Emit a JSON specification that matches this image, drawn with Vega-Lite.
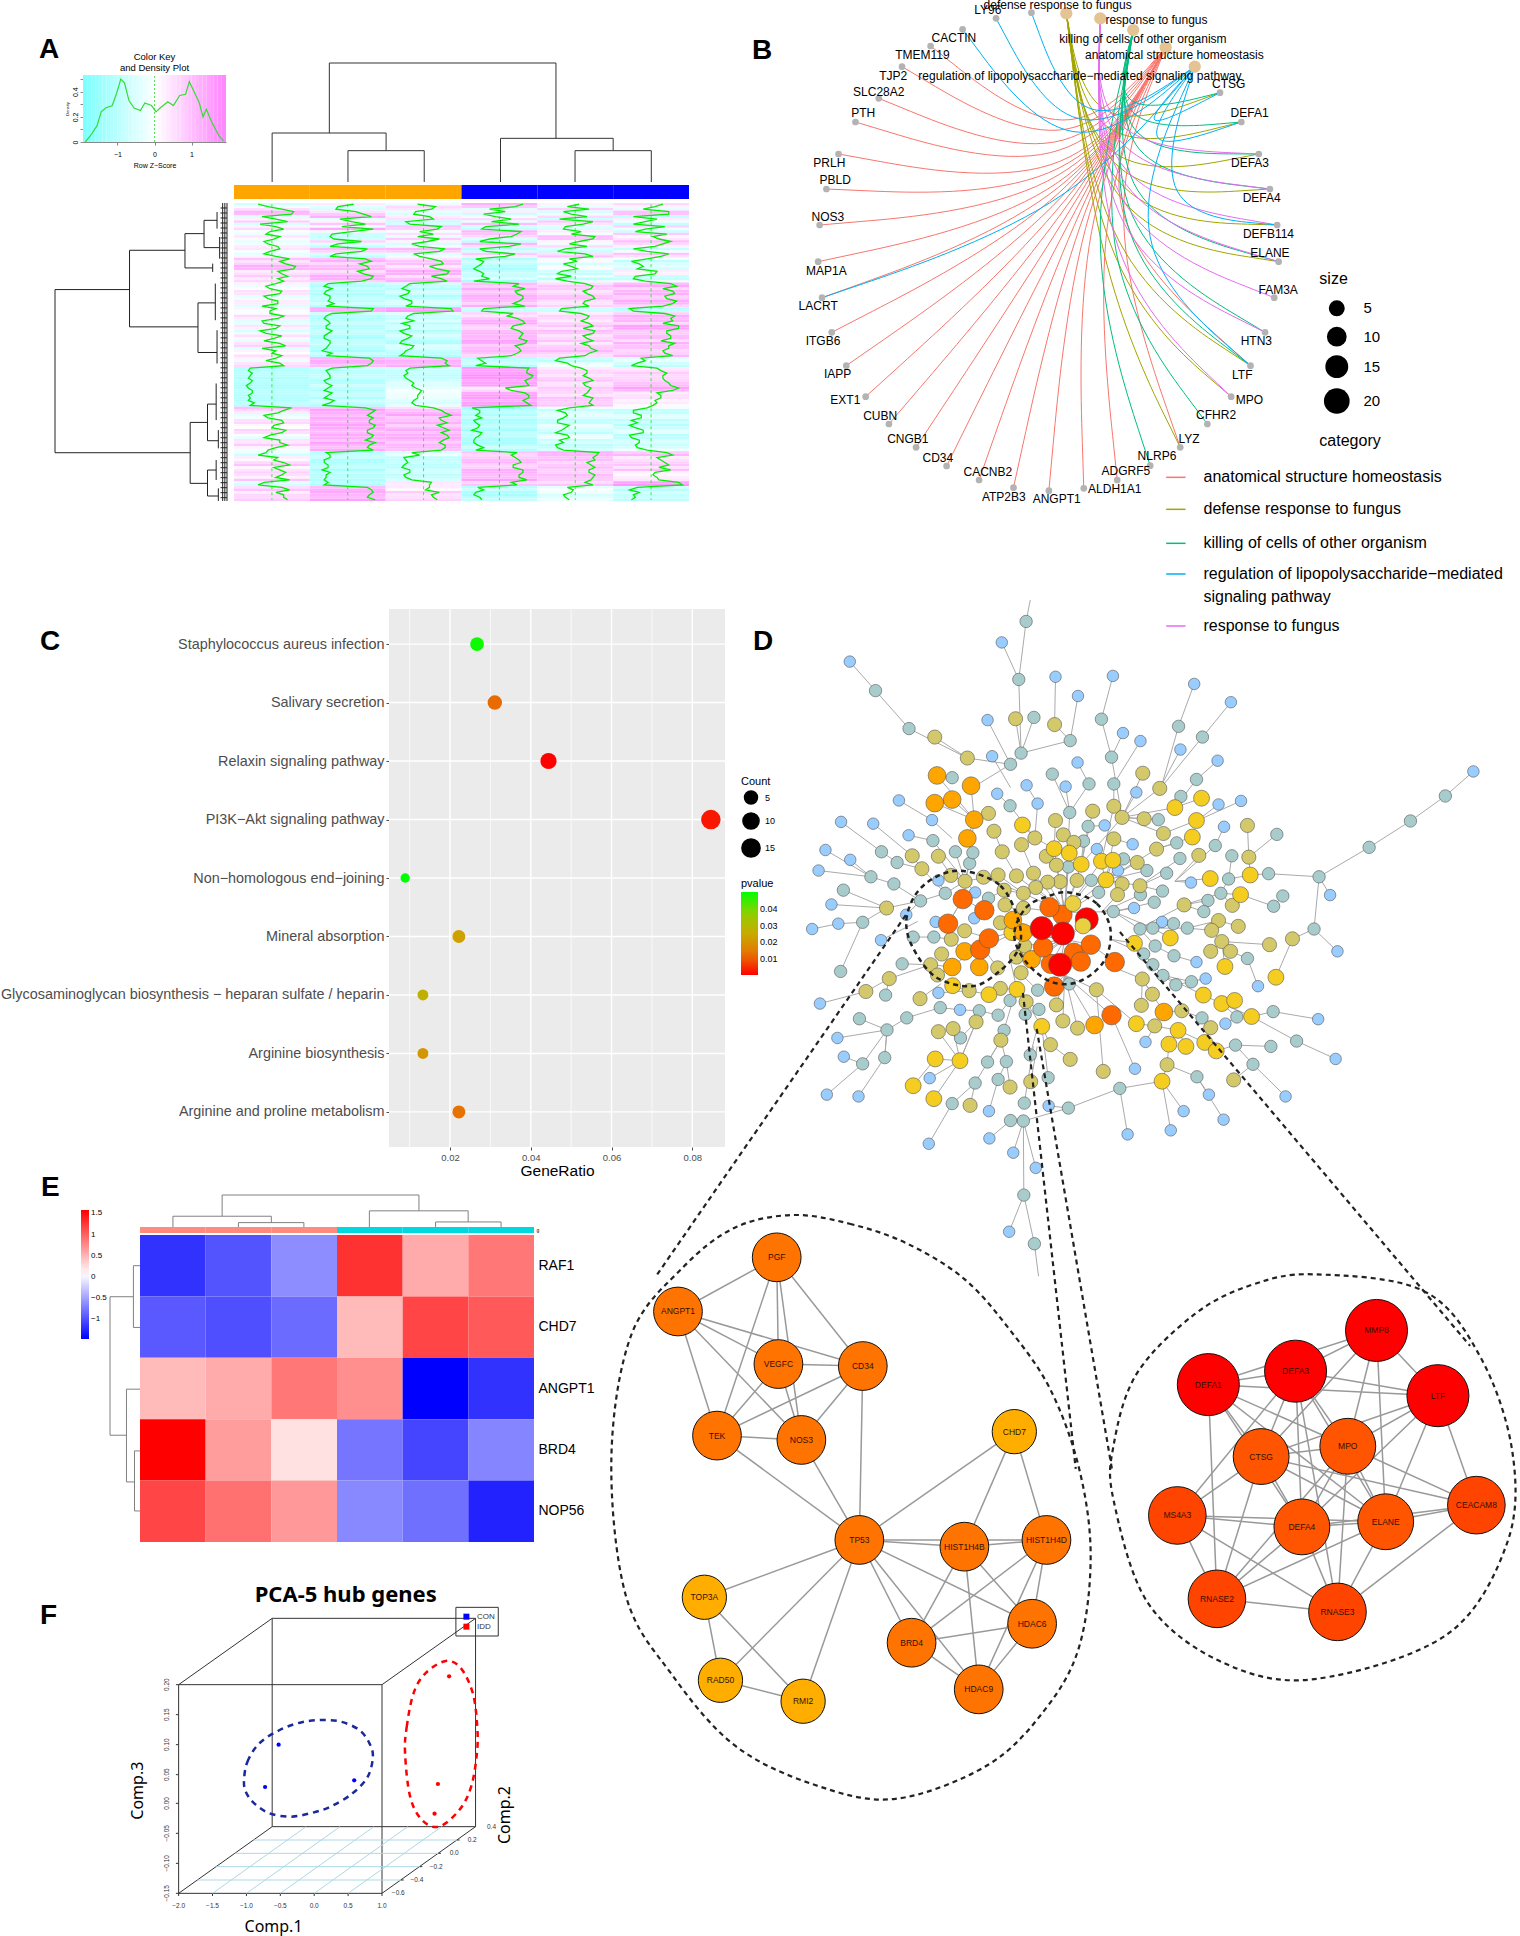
{"$schema":"https://vega.github.io/schema/vega-lite/v6.json","width":1520,"height":1936,"padding":0,"autosize":{"type":"none"},"background":"white","config":{"view":{"stroke":null},"axis":{"grid":false,"labelFont":"Liberation Sans","titleFont":"Liberation Sans"},"legend":{"labelFont":"Liberation Sans","titleFont":"Liberation Sans"},"text":{"font":"Liberation Sans"}},
"resolve":{"scale":{"x":"independent","y":"independent","color":"independent","size":"independent","xOffset":"independent"}},
"datasets":{
"zn":[{"g":"PGF","x":273,"y":145,"l":"o"},{"g":"ANGPT1","x":101,"y":282,"l":"o"},{"g":"VEGFC","x":276,"y":415,"l":"o"},{"g":"CD34","x":423,"y":420,"l":"o"},{"g":"TEK","x":169,"y":596,"l":"o"},{"g":"NOS3","x":316,"y":607,"l":"o"},{"g":"TP53","x":417,"y":860,"l":"o"},{"g":"CHD7","x":687,"y":586,"l":"y"},{"g":"HIST1H4B","x":600,"y":877,"l":"o"},{"g":"HIST1H4D","x":743,"y":860,"l":"o"},{"g":"HDAC6","x":718,"y":1072,"l":"o"},{"g":"BRD4","x":508,"y":1120,"l":"o"},{"g":"HDAC9","x":625,"y":1238,"l":"o"},{"g":"TOP3A","x":147,"y":1005,"l":"y"},{"g":"RAD50","x":175,"y":1215,"l":"y"},{"g":"RMI2","x":319,"y":1268,"l":"y"},{"g":"MMP8","x":1318,"y":330,"l":"r"},{"g":"DEFA3","x":1177,"y":433,"l":"r"},{"g":"DEFA1","x":1025,"y":467,"l":"r"},{"g":"LTF","x":1425,"y":495,"l":"r"},{"g":"CTSG","x":1117,"y":649,"l":"s"},{"g":"MPO","x":1268,"y":623,"l":"s"},{"g":"CEACAM8","x":1492,"y":772,"l":"t"},{"g":"MS4A3","x":971,"y":798,"l":"t"},{"g":"DEFA4","x":1188,"y":827,"l":"s"},{"g":"ELANE","x":1334,"y":814,"l":"s"},{"g":"RNASE2","x":1040,"y":1009,"l":"t"},{"g":"RNASE3","x":1250,"y":1042,"l":"t"}],
"heat":[{"r":0,"a":-0.7,"b":0.3,"c":-0.3,"d":1.2,"e":0.2,"f":0.6},{"r":1,"a":-0.2,"b":-0.5,"c":0.6,"d":0.8,"e":-0.4,"f":0.2},{"r":2,"a":0.5,"b":-0.6,"c":0.4,"d":-0.5,"e":0.7,"f":-0.4},{"r":3,"a":1.1,"b":0.4,"c":-0.4,"d":0.3,"e":-0.6,"f":0.9},{"r":4,"a":1.0,"b":0.8,"c":-0.5,"d":-0.8,"e":-0.2,"f":0.9},{"r":5,"a":-0.5,"b":1.2,"c":0.3,"d":-0.2,"e":0.6,"f":-0.9},{"r":6,"a":0.2,"b":-0.4,"c":0.5,"d":0.6,"e":-0.8,"f":0.3},{"r":7,"a":0.8,"b":0.2,"c":-0.9,"d":-0.4,"e":0.9,"f":-0.3},{"r":8,"a":-0.6,"b":0.9,"c":-0.7,"d":1.0,"e":0.4,"f":-0.9},{"r":9,"a":0.2,"b":-0.3,"c":0.9,"d":-0.7,"e":-0.5,"f":0.7},{"r":10,"a":0.6,"b":1.3,"c":0.7,"d":-0.9,"e":-0.6,"f":-0.3},{"r":11,"a":-0.1,"b":0.2,"c":-0.2,"d":1.1,"e":0.3,"f":-0.8},{"r":12,"a":-0.3,"b":-0.8,"c":0.5,"d":0.9,"e":-0.2,"f":0.8},{"r":13,"a":0.4,"b":-0.9,"c":-0.3,"d":0.6,"e":1.0,"f":0.1},{"r":14,"a":0.1,"b":-0.7,"c":0.8,"d":-0.5,"e":0.9,"f":0.4},{"r":15,"a":-0.4,"b":0.7,"c":0.2,"d":-1.0,"e":0.2,"f":1.0},{"r":16,"a":-0.2,"b":-0.5,"c":-0.6,"d":1.1,"e":-0.3,"f":0.6},{"r":17,"a":0.3,"b":-0.9,"c":-0.2,"d":0.5,"e":0.6,"f":0.2},{"r":18,"a":0.4,"b":1.0,"c":1.1,"d":-1.0,"e":-0.5,"f":-0.9},{"r":19,"a":-0.1,"b":0.7,"c":0.8,"d":-0.7,"e":-0.9,"f":-0.2},{"r":20,"a":-0.4,"b":-0.6,"c":-0.5,"d":0.8,"e":0.5,"f":0.9},{"r":21,"a":0.2,"b":-0.9,"c":-0.2,"d":0.3,"e":0.9,"f":0.5},{"r":22,"a":0.9,"b":0.9,"c":0.4,"d":-1.2,"e":-0.3,"f":-0.2},{"r":23,"a":0.4,"b":1.2,"c":0.9,"d":-0.8,"e":0.1,"f":-1.0},{"r":24,"a":0.7,"b":0.6,"c":1.0,"d":-0.9,"e":-0.6,"f":-0.6},{"r":25,"a":1.2,"b":1.0,"c":0.3,"d":-1.1,"e":-0.2,"f":-0.4},{"r":26,"a":1.1,"b":1.1,"c":0.7,"d":-1.3,"e":0.1,"f":-0.7},{"r":27,"a":0.3,"b":0.5,"c":1.3,"d":-1.0,"e":-0.7,"f":0.3},{"r":28,"a":0.5,"b":0.8,"c":1.2,"d":-0.8,"e":-0.9,"f":0.2},{"r":29,"a":0.8,"b":1.3,"c":0.4,"d":-0.9,"e":-0.2,"f":-0.8},{"r":30,"a":0.3,"b":1.2,"c":0.9,"d":-0.5,"e":-1.0,"f":-0.9},{"r":31,"a":0.6,"b":0.7,"c":1.2,"d":-1.3,"e":-0.4,"f":-0.3},{"r":32,"a":0.2,"b":-1.0,"c":-0.7,"d":1.0,"e":0.5,"f":1.0},{"r":33,"a":-0.3,"b":-1.2,"c":-0.9,"d":0.7,"e":0.9,"f":1.3},{"r":34,"a":-0.1,"b":-0.8,"c":-1.1,"d":1.3,"e":0.8,"f":0.6},{"r":35,"a":0.5,"b":-1.1,"c":-0.7,"d":0.8,"e":0.4,"f":1.1},{"r":36,"a":0.4,"b":-1.2,"c":-0.8,"d":0.9,"e":0.6,"f":1.2},{"r":37,"a":-0.4,"b":-0.9,"c":-1.2,"d":1.2,"e":0.9,"f":0.7},{"r":38,"a":-0.2,"b":-0.9,"c":-1.0,"d":1.2,"e":1.0,"f":0.8},{"r":39,"a":0.3,"b":-1.0,"c":-0.6,"d":1.0,"e":0.5,"f":1.3},{"r":40,"a":0.3,"b":-0.7,"c":-0.6,"d":0.7,"e":0.4,"f":1.1},{"r":41,"a":-0.5,"b":-1.1,"c":-0.9,"d":1.3,"e":0.7,"f":0.6},{"r":42,"a":0.2,"b":1.3,"c":1.4,"d":-0.8,"e":-0.7,"f":-1.1},{"r":43,"a":-0.1,"b":1.2,"c":1.5,"d":-0.9,"e":-0.8,"f":-0.9},{"r":44,"a":-0.1,"b":-0.8,"c":-0.5,"d":0.7,"e":0.3,"f":0.7},{"r":45,"a":0.6,"b":-1.1,"c":-0.8,"d":0.4,"e":0.7,"f":1.2},{"r":46,"a":0.3,"b":-1.2,"c":-0.9,"d":0.9,"e":0.6,"f":1.0},{"r":47,"a":-0.5,"b":-1.0,"c":-0.5,"d":1.2,"e":0.3,"f":1.1},{"r":48,"a":-0.4,"b":-0.9,"c":-1.1,"d":1.3,"e":0.7,"f":0.6},{"r":49,"a":0.4,"b":-1.1,"c":-0.7,"d":0.7,"e":0.9,"f":1.4},{"r":50,"a":0.2,"b":-1.1,"c":-0.7,"d":0.6,"e":0.4,"f":1.4},{"r":51,"a":-0.6,"b":-0.8,"c":-1.2,"d":1.0,"e":1.0,"f":0.8},{"r":52,"a":-0.3,"b":-1.0,"c":-1.0,"d":1.2,"e":0.9,"f":0.8},{"r":53,"a":0.5,"b":-1.2,"c":-0.6,"d":1.1,"e":0.4,"f":1.0},{"r":54,"a":0.1,"b":-1.2,"c":-0.8,"d":1.0,"e":0.6,"f":1.0},{"r":55,"a":-0.4,"b":-0.9,"c":-1.1,"d":1.4,"e":0.9,"f":0.5},{"r":56,"a":0.4,"b":-0.9,"c":-1.2,"d":1.3,"e":0.3,"f":1.2},{"r":57,"a":0.7,"b":-1.0,"c":-0.5,"d":0.8,"e":0.7,"f":0.9},{"r":58,"a":-0.5,"b":-1.1,"c":-0.6,"d":1.0,"e":0.8,"f":0.9},{"r":59,"a":0.2,"b":-1.3,"c":-0.9,"d":1.1,"e":1.1,"f":0.6},{"r":60,"a":0.0,"b":-0.8,"c":-1.0,"d":0.9,"e":0.7,"f":0.7},{"r":61,"a":0.5,"b":-1.1,"c":-1.2,"d":0.6,"e":0.5,"f":1.1},{"r":62,"a":0.2,"b":1.1,"c":0.9,"d":-1.1,"e":-0.8,"f":-0.5},{"r":63,"a":-0.3,"b":1.3,"c":1.2,"d":-0.9,"e":-1.0,"f":-0.3},{"r":64,"a":0.4,"b":1.2,"c":1.1,"d":-0.7,"e":-0.4,"f":-0.7},{"r":65,"a":0.6,"b":1.0,"c":1.3,"d":-1.2,"e":-0.2,"f":-1.0},{"r":66,"a":-1.1,"b":-0.8,"c":-0.7,"d":1.5,"e":0.3,"f":0.3},{"r":67,"a":-1.2,"b":-1.1,"c":-0.9,"d":1.4,"e":0.6,"f":0.5},{"r":68,"a":-1.0,"b":-1.0,"c":-0.8,"d":1.4,"e":0.6,"f":0.8},{"r":69,"a":-1.1,"b":-0.9,"c":-1.0,"d":1.7,"e":0.4,"f":0.6},{"r":70,"a":-1.2,"b":-0.9,"c":-0.9,"d":1.6,"e":0.7,"f":0.6},{"r":71,"a":-1.0,"b":-1.2,"c":-0.7,"d":1.3,"e":0.9,"f":0.7},{"r":72,"a":-1.1,"b":-1.1,"c":-0.5,"d":1.4,"e":0.4,"f":0.9},{"r":73,"a":-1.3,"b":-0.8,"c":-0.6,"d":1.5,"e":0.5,"f":1.0},{"r":74,"a":-1.2,"b":-1.0,"c":-0.4,"d":0.3,"e":0.8,"f":1.4},{"r":75,"a":-1.0,"b":-1.2,"c":-0.1,"d":0.6,"e":0.7,"f":1.1},{"r":76,"a":-1.0,"b":-0.8,"c":-0.2,"d":1.3,"e":0.6,"f":0.3},{"r":77,"a":-1.2,"b":-1.0,"c":-0.3,"d":1.5,"e":0.4,"f":0.5},{"r":78,"a":-1.1,"b":-1.2,"c":-0.3,"d":1.5,"e":0.9,"f":0.5},{"r":79,"a":-1.2,"b":-0.7,"c":-0.5,"d":1.2,"e":0.8,"f":0.2},{"r":80,"a":-0.9,"b":-0.9,"c":-0.6,"d":1.4,"e":0.7,"f":0.3},{"r":81,"a":-1.1,"b":-1.3,"c":-0.4,"d":1.6,"e":0.9,"f":0.1},{"r":82,"a":1.0,"b":0.9,"c":0.5,"d":-1.4,"e":-0.3,"f":-0.2},{"r":83,"a":0.6,"b":1.4,"c":0.9,"d":-1.0,"e":-0.9,"f":-0.9},{"r":84,"a":0.3,"b":1.2,"c":1.1,"d":-1.0,"e":-0.5,"f":-0.9},{"r":85,"a":-0.4,"b":1.0,"c":1.4,"d":-1.2,"e":-0.4,"f":-0.5},{"r":86,"a":-0.2,"b":1.3,"c":0.8,"d":-0.9,"e":-0.6,"f":-0.5},{"r":87,"a":0.5,"b":1.1,"c":0.9,"d":-1.3,"e":-0.9,"f":-1.0},{"r":88,"a":0.6,"b":1.1,"c":1.2,"d":-1.2,"e":-0.9,"f":-0.7},{"r":89,"a":0.1,"b":1.4,"c":0.7,"d":-1.0,"e":-0.3,"f":-1.1},{"r":90,"a":0.0,"b":1.3,"c":1.0,"d":-1.1,"e":-0.5,"f":-0.8},{"r":91,"a":0.7,"b":1.0,"c":1.3,"d":-1.4,"e":-0.7,"f":-0.4},{"r":92,"a":0.5,"b":1.0,"c":0.9,"d":-0.9,"e":-1.0,"f":-0.4},{"r":93,"a":-0.1,"b":1.3,"c":1.2,"d":-1.0,"e":-0.4,"f":-1.1},{"r":94,"a":-0.4,"b":1.2,"c":1.3,"d":-1.2,"e":-0.3,"f":-1.0},{"r":95,"a":0.4,"b":0.9,"c":1.0,"d":-1.3,"e":-0.8,"f":-0.6},{"r":96,"a":0.4,"b":1.4,"c":0.8,"d":-1.3,"e":-0.6,"f":-0.6},{"r":97,"a":0.8,"b":1.1,"c":1.1,"d":-1.1,"e":-1.0,"f":-0.8},{"r":98,"a":0.2,"b":1.0,"c":1.1,"d":-0.8,"e":-0.9,"f":-0.7},{"r":99,"a":-0.2,"b":1.3,"c":0.9,"d":-1.2,"e":-0.6,"f":-0.2},{"r":100,"a":-0.3,"b":-1.1,"c":-0.6,"d":0.9,"e":1.2,"f":0.8},{"r":101,"a":-0.7,"b":-0.9,"c":-0.2,"d":0.6,"e":1.1,"f":1.1},{"r":102,"a":0.3,"b":-0.9,"c":-1.0,"d":0.8,"e":0.9,"f":0.3},{"r":103,"a":0.1,"b":-1.2,"c":-0.9,"d":1.0,"e":1.0,"f":0.5},{"r":104,"a":0.6,"b":-1.2,"c":-0.8,"d":1.1,"e":0.6,"f":0.7},{"r":105,"a":0.9,"b":-1.0,"c":-1.0,"d":0.7,"e":0.8,"f":0.9},{"r":106,"a":0.1,"b":-1.0,"c":-1.1,"d":0.7,"e":1.0,"f":0.4},{"r":107,"a":0.4,"b":-1.3,"c":-0.7,"d":1.2,"e":0.7,"f":1.0},{"r":108,"a":0.7,"b":-0.9,"c":-0.7,"d":1.2,"e":0.7,"f":0.2},{"r":109,"a":0.5,"b":-1.1,"c":-1.0,"d":1.0,"e":1.0,"f":0.1},{"r":110,"a":0.2,"b":-1.1,"c":-0.9,"d":1.0,"e":0.9,"f":0.3},{"r":111,"a":0.9,"b":-1.2,"c":-0.6,"d":1.4,"e":0.8,"f":0.4},{"r":112,"a":-0.4,"b":-1.0,"c":0.4,"d":0.6,"e":0.5,"f":1.4},{"r":113,"a":-0.7,"b":-1.2,"c":0.3,"d":0.9,"e":0.9,"f":1.6},{"r":114,"a":0.5,"b":1.0,"c":0.3,"d":-1.1,"e":-0.4,"f":-0.7},{"r":115,"a":0.9,"b":1.2,"c":0.1,"d":-0.8,"e":-0.1,"f":-1.1},{"r":116,"a":0.2,"b":1.3,"c":0.8,"d":-1.2,"e":-0.2,"f":-0.6},{"r":117,"a":0.6,"b":1.1,"c":0.4,"d":-1.3,"e":-0.6,"f":-0.9},{"r":118,"a":0.6,"b":1.0,"c":0.5,"d":-1.0,"e":-0.5,"f":-0.8},{"r":119,"a":0.8,"b":1.4,"c":0.7,"d":-0.9,"e":-0.3,"f":-1.0}]
},
"layer":[
{"data":{"values":[{"t":"A","x":0.0257,"y":0.0300},{"t":"B","x":0.4947,"y":0.0305},{"t":"C","x":0.0263,"y":0.3357},{"t":"D","x":0.4954,"y":0.3357},{"t":"E","x":0.0270,"y":0.6178},{"t":"F","x":0.0263,"y":0.8388}]},"mark":{"type":"text","fontSize":28,"fontWeight":"bold","align":"left","baseline":"alphabetic","font":"Liberation Sans"},"encoding":{"x":{"field":"x","type":"quantitative","axis":null,"scale":{"domain":[0,1],"range":[0,1520]}},"y":{"field":"y","type":"quantitative","axis":null,"scale":{"domain":[0,1],"range":[0,1936]}},"text":{"field":"t"}}},

{"layer":[
{"data":{"values":[{"a":-1.93,"b":-1.8},{"a":-1.8,"b":-1.7},{"a":-1.7,"b":-1.6},{"a":-1.6,"b":-1.5},{"a":-1.5,"b":-1.4},{"a":-1.4,"b":-1.3},{"a":-1.3,"b":-1.2},{"a":-1.2,"b":-1.1},{"a":-1.1,"b":-1.0},{"a":-1.0,"b":-0.9},{"a":-0.9,"b":-0.8},{"a":-0.8,"b":-0.7},{"a":-0.7,"b":-0.6},{"a":-0.6,"b":-0.5},{"a":-0.5,"b":-0.4},{"a":-0.4,"b":-0.3},{"a":-0.3,"b":-0.2},{"a":-0.2,"b":-0.1},{"a":-0.1,"b":0.0},{"a":0.0,"b":0.1},{"a":0.1,"b":0.2},{"a":0.2,"b":0.3},{"a":0.3,"b":0.4},{"a":0.4,"b":0.5},{"a":0.5,"b":0.6},{"a":0.6,"b":0.7},{"a":0.7,"b":0.8},{"a":0.8,"b":0.9},{"a":0.9,"b":1.0},{"a":1.0,"b":1.1},{"a":1.1,"b":1.2},{"a":1.2,"b":1.3},{"a":1.3,"b":1.4},{"a":1.4,"b":1.5},{"a":1.5,"b":1.6},{"a":1.6,"b":1.7},{"a":1.7,"b":1.8},{"a":1.8,"b":1.93}]},"mark":{"type":"rect","stroke":null},"encoding":{"x":{"field":"a","type":"quantitative","scale":{"domain":[-1.93,1.93],"range":[83,226],"nice":false,"zero":false},"axis":{"orient":"bottom","values":[-1,0,1],"offset":-1794,"labelFontSize":7,"tickSize":3,"title":"Row Z−Score","titleFontSize":7,"titleFontWeight":"normal","titlePadding":4,"labelPadding":5,"domain":true,"format":"d"}},"x2":{"field":"b"},"y":{"datum":0,"type":"quantitative","scale":{"domain":[0,0.533],"range":[142,75],"nice":false,"zero":false},"axis":{"orient":"left","values":[0,0.1,0.2,0.3,0.4,0.5],"labelExpr":"datum.value==0?'0':datum.value==0.2?'0.2':datum.value==0.4?'0.4':''","offset":-83,"labelFontSize":7,"labelAngle":-90,"labelAlign":"center","labelBaseline":"bottom","tickSize":3,"labelPadding":2,"title":"Density","titleFontSize":4,"titleFontWeight":"normal","titlePadding":2}},"y2":{"datum":0.533},"color":{"field":"a","type":"quantitative","legend":null,"scale":{"domain":[-1.93,0,1.93],"range":["#7fffff","#ffffff","#ff7fff"],"interpolate":"rgb"}}}},
{"data":{"values":[{"z":0}]},"mark":{"type":"rule","color":"#33dd33","strokeDash":[2,2],"strokeWidth":0.8},"encoding":{"x":{"field":"z","type":"quantitative"},"y":{"datum":0,"type":"quantitative"},"y2":{"datum":0.533}}},
{"data":{"values":[{"z":-1.87,"d":0},{"z":-1.73,"d":0.05},{"z":-1.55,"d":0.13},{"z":-1.44,"d":0.24},{"z":-1.32,"d":0.27},{"z":-1.14,"d":0.29},{"z":-1.02,"d":0.39},{"z":-0.91,"d":0.5},{"z":-0.81,"d":0.47},{"z":-0.69,"d":0.33},{"z":-0.55,"d":0.27},{"z":-0.38,"d":0.25},{"z":-0.26,"d":0.31},{"z":-0.08,"d":0.29},{"z":0.04,"d":0.24},{"z":0.15,"d":0.27},{"z":0.36,"d":0.32},{"z":0.51,"d":0.29},{"z":0.68,"d":0.37},{"z":0.84,"d":0.38},{"z":0.94,"d":0.48},{"z":1.07,"d":0.4},{"z":1.21,"d":0.31},{"z":1.31,"d":0.2},{"z":1.4,"d":0.26},{"z":1.56,"d":0.15},{"z":1.74,"d":0.05},{"z":1.86,"d":0.01}]},"mark":{"type":"line","color":"#33dd33","strokeWidth":1.2},"encoding":{"x":{"field":"z","type":"quantitative"},"y":{"field":"d","type":"quantitative"}}},
{"data":{"values":[{"t":"Color Key","z":0,"d":0.64},{"t":"and Density Plot","z":0,"d":0.545}]},"mark":{"type":"text","fontSize":9.5,"baseline":"bottom","fontWeight":500},"encoding":{"x":{"field":"z","type":"quantitative"},"y":{"field":"d","type":"quantitative"},"text":{"field":"t"}}}
]},

{"data":{"values":[{"a":690,"b":1213,"c":128,"d":128},{"a":690,"b":690,"c":128,"d":338},{"a":1213,"b":1213,"c":128,"d":354},{"a":558,"b":821,"c":338,"d":338},{"a":558,"b":558,"c":338,"d":485},{"a":821,"b":821,"c":338,"d":391},{"a":733,"b":909,"c":391,"d":391},{"a":733,"b":733,"c":391,"d":485},{"a":909,"b":909,"c":391,"d":485},{"a":1085,"b":1345,"c":354,"d":354},{"a":1085,"b":1085,"c":354,"d":485},{"a":1345,"b":1345,"c":354,"d":391},{"a":1257,"b":1433,"c":391,"d":391},{"a":1257,"b":1257,"c":391,"d":485},{"a":1433,"b":1433,"c":391,"d":485}]},"mark":{"type":"rule","color":"#333","strokeWidth":1},"encoding":{"x":{"field":"a","type":"quantitative","axis":null,"scale":{"domain":[470,1520],"range":[234,689],"zero":false,"nice":false}},"x2":{"field":"b"},"y":{"field":"c","type":"quantitative","axis":null,"scale":{"domain":[128,485],"range":[63,182],"zero":false,"nice":false}},"y2":{"field":"d"}}},
{"data":{"values":[{"s":"s1"},{"s":"s2"},{"s":"s3"},{"s":"s4"},{"s":"s5"},{"s":"s6"}]},"mark":{"type":"rect","stroke":null},"encoding":{"x":{"field":"s","type":"nominal","axis":null,"scale":{"domain":["s1","s2","s3","s4","s5","s6"],"range":[234,689],"paddingInner":0,"paddingOuter":0}},"y":{"datum":0,"type":"quantitative","axis":null,"scale":{"domain":[0,1],"range":[199,185]}},"y2":{"datum":1},"color":{"field":"s","type":"nominal","legend":null,"scale":{"domain":["s1","s2","s3","s4","s5","s6"],"range":["#ffa500","#ffa500","#ffa500","#0000ff","#0000ff","#0000ff"]}}}},

{"data":{"name":"heat"},"transform":[{"fold":["a","b","c","d","e","f"],"as":["s","z"]}],"mark":{"type":"rect","stroke":null},"encoding":{"x":{"field":"s","type":"nominal","axis":null,"scale":{"domain":["a","b","c","d","e","f"],"range":[234,689],"paddingInner":0,"paddingOuter":0}},"y":{"field":"r","type":"ordinal","axis":null,"scale":{"range":[203,501],"paddingInner":0,"paddingOuter":0}},"color":{"field":"z","type":"quantitative","legend":null,"scale":{"domain":[-1.93,0,1.93],"range":["#7fffff","#ffffff","#ff7fff"],"interpolate":"rgb"}}}},
{"data":{"name":"heat"},"transform":[{"fold":["a","b","c","d","e","f"],"as":["s","z"]}],"layer":[
{"mark":{"type":"line","color":"#00ee00","strokeWidth":0.8,"strokeDash":[3,3]},"encoding":{"x":{"field":"s","type":"nominal","axis":null,"scale":{"domain":["a","b","c","d","e","f"],"range":[234,689],"paddingInner":0,"paddingOuter":0}},"y":{"field":"r","type":"ordinal","axis":null,"scale":{"range":[203,501],"paddingInner":0,"paddingOuter":0}},"xOffset":{"datum":0,"type":"quantitative","scale":{"domain":[-1.93,1.93],"range":[0,75.83]}},"detail":{"field":"s"},"order":{"field":"r"}}},
{"mark":{"type":"line","color":"#00ee00","strokeWidth":1.3},"encoding":{"x":{"field":"s","type":"nominal"},"y":{"field":"r","type":"ordinal"},"xOffset":{"field":"z","type":"quantitative","scale":{"domain":[-1.93,1.93],"range":[0,75.83]}},"detail":{"field":"s"},"order":{"field":"r"}}}
]},

{"layer":[
{"data":{"values":[{"a":58,"b":58,"c":808,"d":1298},{"a":58,"b":230,"c":808,"d":808},{"a":58,"b":370,"c":1298,"d":1298},{"a":230,"b":230,"c":690,"d":920},{"a":230,"b":358,"c":690,"d":690},{"a":230,"b":388,"c":920,"d":920},{"a":358,"b":358,"c":640,"d":743},{"a":358,"b":402,"c":640,"d":640},{"a":358,"b":422,"c":743,"d":743},{"a":402,"b":402,"c":600,"d":682},{"a":402,"b":432,"c":600,"d":600},{"a":402,"b":438,"c":682,"d":682},{"a":388,"b":388,"c":848,"d":997},{"a":388,"b":428,"c":848,"d":848},{"a":388,"b":432,"c":997,"d":997},{"a":370,"b":370,"c":1207,"d":1390},{"a":370,"b":410,"c":1207,"d":1207},{"a":370,"b":410,"c":1390,"d":1390},{"a":410,"b":410,"c":1152,"d":1262},{"a":410,"b":430,"c":1152,"d":1152},{"a":410,"b":435,"c":1262,"d":1262},{"a":410,"b":410,"c":1350,"d":1428},{"a":410,"b":430,"c":1350,"d":1350},{"a":410,"b":435,"c":1428,"d":1428},{"a":432,"b":432,"c":575,"d":625},{"a":438,"b":438,"c":650,"d":715},{"a":422,"b":422,"c":730,"d":755},{"a":428,"b":428,"c":790,"d":900},{"a":432,"b":432,"c":930,"d":1030},{"a":430,"b":430,"c":1090,"d":1200},{"a":435,"b":435,"c":1230,"d":1285},{"a":430,"b":430,"c":1320,"d":1380},{"a":435,"b":435,"c":1405,"d":1443},{"a":445,"b":445,"c":548,"d":1443},{"a":450,"b":450,"c":548,"d":1443},{"a":455,"b":455,"c":548,"d":1443}]},"mark":{"type":"rule","color":"#222","strokeWidth":1},"encoding":{"x":{"field":"a","type":"quantitative","axis":null,"scale":{"domain":[58,455],"range":[55,227],"zero":false,"nice":false}},"x2":{"field":"b"},"y":{"field":"c","type":"quantitative","axis":null,"scale":{"domain":[548,1443],"range":[203,501],"zero":false,"nice":false}},"y2":{"field":"d"}}},
{"data":{"values":[{"c":563},{"c":578},{"c":593},{"c":608},{"c":623},{"c":638},{"c":653},{"c":668},{"c":683},{"c":698},{"c":713},{"c":728},{"c":743},{"c":758},{"c":773},{"c":788},{"c":803},{"c":818},{"c":833},{"c":848},{"c":863},{"c":878},{"c":893},{"c":908},{"c":923},{"c":938},{"c":953},{"c":968},{"c":983},{"c":998},{"c":1013},{"c":1028},{"c":1043},{"c":1058},{"c":1073},{"c":1088},{"c":1103},{"c":1118},{"c":1133},{"c":1148},{"c":1163},{"c":1178},{"c":1193},{"c":1208},{"c":1223},{"c":1238},{"c":1253},{"c":1268},{"c":1283},{"c":1298},{"c":1313},{"c":1328},{"c":1343},{"c":1358},{"c":1373},{"c":1388},{"c":1403},{"c":1418},{"c":1433}]},"mark":{"type":"rule","color":"#222","strokeWidth":1},"encoding":{"x":{"datum":440,"type":"quantitative"},"x2":{"datum":455},"y":{"field":"c","type":"quantitative"}}}
]},

{"layer":[
{"data":{"values":[{"a":0,"b":1,"c":0,"d":1}]},"mark":{"type":"rect","color":"#ebebeb"},"encoding":{"x":{"field":"a","type":"quantitative","axis":null,"scale":{"domain":[0,1],"range":[389,725],"zero":false,"nice":false}},"x2":{"field":"b"},"y":{"field":"c","type":"quantitative","axis":null,"scale":{"domain":[0,1],"range":[609,1147],"zero":false,"nice":false}},"y2":{"field":"d"}}}
]},
{"layer":[
{"data":{"values":[{"v":0.01,"w":1},{"v":0.03,"w":1},{"v":0.05,"w":1},{"v":0.07,"w":1}]},"mark":{"type":"rule","color":"white","strokeWidth":0.7},"encoding":{"x":{"field":"v","type":"quantitative","axis":null,"scale":{"domain":[0.0049,0.0881],"range":[389,725],"zero":false,"nice":false}},"y":{"datum":0,"type":"quantitative","axis":null,"scale":{"domain":[0,1],"range":[609,1147]}},"y2":{"datum":1}}},
{"data":{"values":[{"v":0.02},{"v":0.04},{"v":0.06},{"v":0.08}]},"mark":{"type":"rule","color":"white","strokeWidth":1.4},"encoding":{"x":{"field":"v","type":"quantitative"},"y":{"datum":0,"type":"quantitative"},"y2":{"datum":1}}}
]},
{"data":{"values":[{"term":"Staphylococcus aureus infection","ratio":0.0267,"count":6,"p":0.049},{"term":"Salivary secretion","ratio":0.0311,"count":7,"p":0.012},{"term":"Relaxin signaling pathway","ratio":0.0444,"count":10,"p":0.0005},{"term":"PI3K−Akt signaling pathway","ratio":0.0846,"count":19,"p":0.003},{"term":"Non−homologous end−joining","ratio":0.0089,"count":2,"p":0.05},{"term":"Mineral absorption","ratio":0.0222,"count":5,"p":0.023},{"term":"Glycosaminoglycan biosynthesis − heparan sulfate / heparin","ratio":0.0133,"count":3,"p":0.027},{"term":"Arginine biosynthesis","ratio":0.0133,"count":3,"p":0.021},{"term":"Arginine and proline metabolism","ratio":0.0222,"count":5,"p":0.013}]},"layer":[
{"mark":{"type":"rule","color":"white","strokeWidth":1.4},"encoding":{"x":{"datum":0.0049,"type":"quantitative","scale":{"domain":[0.0049,0.0881],"range":[389,725],"zero":false,"nice":false},"axis":{"orient":"bottom","values":[0.02,0.04,0.06,0.08],"format":".2f","offset":-789,"labelFontSize":9.5,"labelColor":"#4d4d4d","tickColor":"#4d4d4d","tickSize":3,"domain":false,"title":"GeneRatio","titleFontSize":15.5,"titleFontWeight":"normal","titlePadding":2,"labelPadding":2}},"x2":{"datum":0.0881},"y":{"field":"term","type":"nominal","sort":null,"scale":{"type":"point","padding":0.6,"range":[609,1147]},"axis":{"orient":"left","offset":-389,"labelFontSize":14.4,"labelColor":"#4d4d4d","tickColor":"#4d4d4d","tickSize":3,"domain":false,"title":null,"labelLimit":500,"labelPadding":2}}}},
{"mark":{"type":"circle","opacity":1},"encoding":{"x":{"field":"ratio","type":"quantitative"},"y":{"field":"term","type":"nominal","sort":null},"size":{"field":"count","type":"quantitative","scale":{"type":"sqrt","domain":[2,19],"range":[87,380]},"legend":{"orient":"none","legendX":741,"legendY":776,"title":"Count","titleFontSize":11,"titleFontWeight":"normal","labelFontSize":9,"values":[5,10,15],"symbolFillColor":"black","symbolStrokeColor":"black","titlePadding":3,"symbolOpacity":1}},"color":{"field":"p","type":"quantitative","scale":{"domain":[0.0005,0.0125,0.025,0.0375,0.05],"range":["#ff0000","#e87000","#c8aa00","#90d000","#00ff00"],"interpolate":"rgb"},"legend":{"orient":"none","legendX":741,"legendY":878,"title":"pvalue","titleFontSize":11,"titleFontWeight":"normal","labelFontSize":9,"gradientLength":83,"gradientThickness":17,"values":[0.01,0.02,0.03,0.04],"format":".2f","titlePadding":3,"tickCount":4}}}}
]},

{"layer":[
{"data":{"values":[{"a":493,"b":1025,"c":75,"d":75},{"a":493,"b":493,"c":75,"d":138},{"a":1025,"b":1025,"c":75,"d":122},{"a":360,"b":626,"c":138,"d":138},{"a":360,"b":360,"c":138,"d":170},{"a":626,"b":626,"c":138,"d":157},{"a":537,"b":714,"c":157,"d":157},{"a":537,"b":537,"c":157,"d":170},{"a":714,"b":714,"c":157,"d":170},{"a":891,"b":1158,"c":122,"d":122},{"a":891,"b":891,"c":122,"d":170},{"a":1158,"b":1158,"c":122,"d":155},{"a":1070,"b":1247,"c":155,"d":155},{"a":1070,"b":1070,"c":155,"d":170},{"a":1247,"b":1247,"c":155,"d":170}]},"mark":{"type":"rule","color":"#808080","strokeWidth":1},"encoding":{"x":{"field":"a","type":"quantitative","axis":null,"scale":{"domain":[271,1336],"range":[140,534],"zero":false,"nice":false}},"x2":{"field":"b"},"y":{"field":"c","type":"quantitative","axis":null,"scale":{"domain":[75,170],"range":[1195,1227],"zero":false,"nice":false}},"y2":{"field":"d"}}}
]},
{"data":{"values":[{"s":"s1","v":"g"},{"s":"s2","v":"g"},{"s":"s3","v":"g"},{"s":"s4","v":"g"},{"s":"s5","v":"g"},{"s":"s6","v":"g"}]},"mark":{"type":"rect","stroke":null},"encoding":{"x":{"field":"s","type":"nominal","axis":null,"scale":{"domain":["s1","s2","s3","s4","s5","s6"],"range":[140,534],"paddingInner":0,"paddingOuter":0}},"y":{"field":"v","type":"nominal","scale":{"range":[1227,1233],"paddingInner":0,"paddingOuter":0},"axis":{"orient":"right","offset":-986,"title":null,"ticks":false,"domain":false,"labelFontSize":5,"labelPadding":2}},"color":{"field":"s","type":"nominal","legend":null,"scale":{"domain":["s1","s2","s3","s4","s5","s6"],"range":["#ff8a80","#ff8a80","#ff8a80","#00d8e0","#00d8e0","#00d8e0"]}}}},
{"data":{"values":[{"g":"RAF1","a":-1.16,"b":-0.96,"c":-0.62,"d":1.28,"e":0.56,"f":0.87},{"g":"CHD7","a":-0.93,"b":-0.99,"c":-0.82,"d":0.47,"e":1.17,"f":1.05},{"g":"ANGPT1","a":0.47,"b":0.56,"c":0.87,"d":0.73,"e":-1.46,"f":-1.16},{"g":"BRD4","a":1.58,"b":0.65,"c":0.24,"d":-0.76,"e":-1.05,"f":-0.67},{"g":"NOP56","a":1.17,"b":0.91,"c":0.67,"d":-0.65,"e":-0.79,"f":-1.26}]},"transform":[{"fold":["a","b","c","d","e","f"],"as":["s","z"]}],"mark":{"type":"rect","stroke":null},"encoding":{"x":{"field":"s","type":"nominal","axis":null,"scale":{"domain":["a","b","c","d","e","f"],"range":[140,534],"paddingInner":0,"paddingOuter":0}},"y":{"field":"g","type":"nominal","sort":null,"scale":{"domain":["RAF1","CHD7","ANGPT1","BRD4","NOP56"],"range":[1235,1542],"paddingInner":0,"paddingOuter":0},"axis":{"orient":"right","offset":-986,"title":null,"ticks":false,"domain":false,"labelFontSize":14,"labelPadding":4,"labelColor":"#000"}},"color":{"field":"z","type":"quantitative","scale":{"domain":[-1.46,0.06,1.58],"range":["#0000ff","#ffffff","#ff0000"],"interpolate":"rgb"},"legend":{"orient":"none","legendX":81,"legendY":1210,"title":null,"gradientLength":129,"gradientThickness":8,"values":[-1,-0.5,0,0.5,1,1.5],"format":"~g","labelFontSize":8,"labelPadding":3,"tickCount":6}}}},
{"data":{"values":[{"a":188,"b":188,"c":380,"d":795},{"a":188,"b":252,"c":380,"d":380},{"a":252,"b":252,"c":287,"d":472},{"a":252,"b":270,"c":287,"d":287},{"a":252,"b":270,"c":472,"d":472},{"a":188,"b":233,"c":795,"d":795},{"a":233,"b":233,"c":657,"d":935},{"a":233,"b":270,"c":657,"d":657},{"a":233,"b":255,"c":935,"d":935},{"a":255,"b":255,"c":842,"d":1022},{"a":255,"b":270,"c":842,"d":842},{"a":255,"b":270,"c":1022,"d":1022}]},"mark":{"type":"rule","color":"#808080","strokeWidth":1},"encoding":{"x":{"field":"a","type":"quantitative","axis":null,"scale":{"domain":[188,270],"range":[110,140],"zero":false,"nice":false}},"x2":{"field":"b"},"y":{"field":"c","type":"quantitative","axis":null,"scale":{"domain":[195,1115],"range":[1235,1542],"zero":false,"nice":false}},"y2":{"field":"d"}}},

{"layer":[
{"data":{"values":[{"a":232,"b":832,"c":314,"d":314},{"a":232,"b":232,"c":314,"d":940},{"a":832,"b":832,"c":314,"d":940},{"a":232,"b":832,"c":940,"d":940},{"a":508,"b":1108,"c":115,"d":115},{"a":508,"b":508,"c":115,"d":740},{"a":1108,"b":1108,"c":115,"d":740},{"a":508,"b":1108,"c":740,"d":740},{"a":232,"b":508,"c":314,"d":115},{"a":832,"b":1108,"c":314,"d":115},{"a":232,"b":508,"c":940,"d":740},{"a":832,"b":1108,"c":940,"d":740},{"a":232,"b":232,"c":940,"d":948},{"a":332,"b":332,"c":940,"d":948},{"a":432,"b":432,"c":940,"d":948},{"a":532,"b":532,"c":940,"d":948},{"a":632,"b":632,"c":940,"d":948},{"a":732,"b":732,"c":940,"d":948},{"a":832,"b":832,"c":940,"d":948},{"a":224,"b":232,"c":314,"d":314},{"a":224,"b":232,"c":404,"d":404},{"a":224,"b":232,"c":494,"d":494},{"a":224,"b":232,"c":584,"d":584},{"a":224,"b":232,"c":670,"d":670},{"a":224,"b":232,"c":760,"d":760},{"a":224,"b":232,"c":850,"d":850},{"a":224,"b":232,"c":940,"d":940},{"a":888,"b":896,"c":900,"d":900},{"a":943,"b":951,"c":860,"d":860},{"a":998,"b":1006,"c":820,"d":820},{"a":1053,"b":1061,"c":780,"d":780}]},"mark":{"type":"rule","color":"#333","strokeWidth":1},"encoding":{"x":{"field":"a","type":"quantitative","axis":null,"scale":{"domain":[0,1240],"range":[100,520.3],"zero":false,"nice":false}},"x2":{"field":"b"},"y":{"field":"c","type":"quantitative","axis":null,"scale":{"domain":[0,1068],"range":[1580,1936],"zero":false,"nice":false}},"y2":{"field":"d"}}},
{"data":{"values":[{"a":332,"b":608,"c":940,"d":740},{"a":432,"b":708,"c":940,"d":740},{"a":532,"b":808,"c":940,"d":740},{"a":632,"b":908,"c":940,"d":740},{"a":732,"b":1008,"c":940,"d":740},{"a":453,"b":1053,"c":780,"d":780},{"a":398,"b":998,"c":820,"d":820},{"a":343,"b":943,"c":860,"d":860},{"a":288,"b":888,"c":900,"d":900}]},"mark":{"type":"rule","color":"#add8e6","strokeWidth":1},"encoding":{"x":{"field":"a","type":"quantitative"},"x2":{"field":"b"},"y":{"field":"c","type":"quantitative"},"y2":{"field":"d"}}},
{"data":{"values":[{"o":0,"x":425,"y":600},{"o":1,"x":435,"y":545},{"o":2,"x":470,"y":490},{"o":3,"x":530,"y":450},{"o":4,"x":590,"y":428},{"o":5,"x":650,"y":420},{"o":6,"x":710,"y":425},{"o":7,"x":765,"y":450},{"o":8,"x":795,"y":490},{"o":9,"x":805,"y":530},{"o":10,"x":790,"y":590},{"o":11,"x":745,"y":640},{"o":12,"x":680,"y":680},{"o":13,"x":620,"y":700},{"o":14,"x":560,"y":710},{"o":15,"x":500,"y":700},{"o":16,"x":455,"y":670},{"o":17,"x":430,"y":635}]},"mark":{"type":"line","interpolate":"cardinal-closed","color":"#1a2a9c","strokeDash":[6,5],"strokeWidth":2.5},"encoding":{"x":{"field":"x","type":"quantitative"},"y":{"field":"y","type":"quantitative"},"order":{"field":"o"}}},
{"data":{"values":[{"o":0,"x":900,"y":520},{"o":1,"x":905,"y":440},{"o":2,"x":925,"y":340},{"o":3,"x":960,"y":280},{"o":4,"x":1020,"y":243},{"o":5,"x":1065,"y":265},{"o":6,"x":1100,"y":340},{"o":7,"x":1113,"y":440},{"o":8,"x":1112,"y":520},{"o":9,"x":1095,"y":620},{"o":10,"x":1060,"y":690},{"o":11,"x":1000,"y":740},{"o":12,"x":950,"y":720},{"o":13,"x":915,"y":650}]},"mark":{"type":"line","interpolate":"cardinal-closed","color":"#ff0000","strokeDash":[6,5],"strokeWidth":2.5},"encoding":{"x":{"field":"x","type":"quantitative"},"y":{"field":"y","type":"quantitative"},"order":{"field":"o"}}},
{"data":{"values":[{"x":527,"y":494,"g":"CON"},{"x":487,"y":621,"g":"CON"},{"x":750,"y":601,"g":"CON"},{"x":1030,"y":289,"g":"IDD"},{"x":997,"y":612,"g":"IDD"},{"x":987,"y":701,"g":"IDD"}]},"mark":{"type":"circle","opacity":1,"size":18},"encoding":{"x":{"field":"x","type":"quantitative"},"y":{"field":"y","type":"quantitative"},"color":{"field":"g","type":"nominal","legend":null,"scale":{"domain":["CON","IDD"],"range":["#0000ff","#ff0000"]}}}},
{"data":{"values":[{"a":1050,"b":1175,"c":82,"d":168}]},"mark":{"type":"rect","fill":"white","fillOpacity":0,"stroke":"#333","strokeWidth":1},"encoding":{"x":{"field":"a","type":"quantitative"},"x2":{"field":"b"},"y":{"field":"c","type":"quantitative"},"y2":{"field":"d"}}},
{"data":{"values":[{"x":1081,"y":110,"g":"CON"},{"x":1081,"y":140,"g":"IDD"}]},"mark":{"type":"square","opacity":1,"size":36},"encoding":{"x":{"field":"x","type":"quantitative"},"y":{"field":"y","type":"quantitative"},"color":{"field":"g","type":"nominal","legend":null}}},
{"data":{"values":[{"x":1112,"y":110,"t":"CON"},{"x":1112,"y":140,"t":"IDD"}]},"mark":{"type":"text","fontSize":8,"align":"left","color":"#333"},"encoding":{"x":{"field":"x","type":"quantitative"},"y":{"field":"y","type":"quantitative"},"text":{"field":"t"}}},
{"data":{"values":[{"x":232,"y":977,"t":"−2.0"},{"x":332,"y":977,"t":"−1.5"},{"x":432,"y":977,"t":"−1.0"},{"x":532,"y":977,"t":"−0.5"},{"x":632,"y":977,"t":"0.0"},{"x":732,"y":977,"t":"0.5"},{"x":832,"y":977,"t":"1.0"},{"x":880,"y":940,"t":"−0.6"},{"x":935,"y":900,"t":"−0.4"},{"x":992,"y":860,"t":"−0.2"},{"x":1045,"y":820,"t":"0.0"},{"x":1098,"y":780,"t":"0.2"},{"x":1155,"y":740,"t":"0.4"}]},"mark":{"type":"text","fontSize":6.5,"color":"#333"},"encoding":{"x":{"field":"x","type":"quantitative"},"y":{"field":"y","type":"quantitative"},"text":{"field":"t"}}},
{"data":{"values":[{"x":197,"y":314,"t":"0.20"},{"x":197,"y":404,"t":"0.15"},{"x":197,"y":494,"t":"0.10"},{"x":197,"y":584,"t":"0.05"},{"x":197,"y":670,"t":"0.00"},{"x":197,"y":760,"t":"−0.05"},{"x":197,"y":850,"t":"−0.10"},{"x":197,"y":940,"t":"−0.15"}]},"mark":{"type":"text","fontSize":6.5,"color":"#333","angle":270},"encoding":{"x":{"field":"x","type":"quantitative"},"y":{"field":"y","type":"quantitative"},"text":{"field":"t"}}},
{"data":{"values":[{"x":512,"y":1040,"t":"Comp.1"}]},"mark":{"type":"text","fontSize":16,"font":"Noto Sans"},"encoding":{"x":{"field":"x","type":"quantitative"},"y":{"field":"y","type":"quantitative"},"text":{"field":"t"}}},
{"data":{"values":[{"x":113,"y":632,"t":"Comp.3"},{"x":1195,"y":705,"t":"Comp.2"}]},"mark":{"type":"text","fontSize":16,"font":"Noto Sans","angle":270},"encoding":{"x":{"field":"x","type":"quantitative"},"y":{"field":"y","type":"quantitative"},"text":{"field":"t"}}},
{"data":{"values":[{"x":725,"y":45,"t":"PCA-5 hub genes"}]},"mark":{"type":"text","fontSize":22,"font":"Noto Sans","fontWeight":"bold"},"encoding":{"x":{"field":"x","type":"quantitative"},"y":{"field":"y","type":"quantitative"},"text":{"field":"t"}}}
]},

{"layer":[
{"data":{"values":[{"e":1,"k":"a","u":[837,640,352],"v":[142,470,138],"o":[0,1,2]},{"e":2,"k":"a","u":[837,640,293],"v":[142,500,200],"o":[0,1,2]},{"e":3,"k":"a","u":[837,640,245],"v":[142,530,295],"o":[0,1,2]},{"e":4,"k":"a","u":[837,640,197],"v":[142,560,366],"o":[0,1,2]},{"e":5,"k":"a","u":[837,650,162],"v":[142,590,462],"o":[0,1,2]},{"e":6,"k":"a","u":[837,650,137],"v":[142,600,567],"o":[0,1,2]},{"e":7,"k":"a","u":[837,650,123],"v":[142,610,675],"o":[0,1,2]},{"e":8,"k":"a","u":[837,650,120],"v":[142,620,785],"o":[0,1,2]},{"e":9,"k":"a","u":[837,650,128],"v":[142,620,893],"o":[0,1,2]},{"e":10,"k":"a","u":[837,650,148],"v":[142,620,997],"o":[0,1,2]},{"e":11,"k":"a","u":[837,650,178],"v":[142,620,1097],"o":[0,1,2]},{"e":12,"k":"a","u":[837,650,218],"v":[142,620,1190],"o":[0,1,2]},{"e":13,"k":"a","u":[837,650,266],"v":[142,620,1272],"o":[0,1,2]},{"e":14,"k":"a","u":[837,650,322],"v":[142,620,1342],"o":[0,1,2]},{"e":15,"k":"a","u":[837,650,385],"v":[142,620,1398],"o":[0,1,2]},{"e":16,"k":"a","u":[837,650,452],"v":[142,620,1440],"o":[0,1,2]},{"e":17,"k":"a","u":[837,650,523],"v":[142,620,1463],"o":[0,1,2]},{"e":18,"k":"a","u":[837,650,596],"v":[142,620,1472],"o":[0,1,2]},{"e":19,"k":"a","u":[837,650,668],"v":[142,640,1465],"o":[0,1,2]},{"e":20,"k":"a","u":[837,680,737],"v":[142,640,1440],"o":[0,1,2]},{"e":21,"k":"a","u":[837,700,867],"v":[142,640,1342],"o":[0,1,2]},{"e":22,"k":"a","u":[837,660,1012],"v":[142,640,1097],"o":[0,1,2]},{"e":30,"k":"d","u":[632,680,949],"v":[40,420,278],"o":[0,1,2]},{"e":31,"k":"d","u":[632,680,993],"v":[40,480,366],"o":[0,1,2]},{"e":32,"k":"d","u":[632,680,1029],"v":[40,560,462],"o":[0,1,2]},{"e":33,"k":"d","u":[632,690,1052],"v":[40,600,567],"o":[0,1,2]},{"e":34,"k":"d","u":[632,700,1067],"v":[40,660,675],"o":[0,1,2]},{"e":35,"k":"d","u":[632,700,1070],"v":[40,700,785],"o":[0,1,2]},{"e":36,"k":"d","u":[632,700,1012],"v":[40,800,1097],"o":[0,1,2]},{"e":37,"k":"d","u":[632,700,972],"v":[40,850,1190],"o":[0,1,2]},{"e":38,"k":"d","u":[632,700,867],"v":[40,850,1342],"o":[0,1,2]},{"e":40,"k":"k","u":[770,720,949],"v":[90,360,278],"o":[0,1,2]},{"e":41,"k":"k","u":[770,720,993],"v":[90,400,366],"o":[0,1,2]},{"e":42,"k":"k","u":[770,720,1029],"v":[90,460,462],"o":[0,1,2]},{"e":43,"k":"k","u":[770,720,1052],"v":[90,510,567],"o":[0,1,2]},{"e":44,"k":"k","u":[770,710,1070],"v":[90,640,785],"o":[0,1,2]},{"e":45,"k":"k","u":[770,700,1042],"v":[90,700,997],"o":[0,1,2]},{"e":46,"k":"k","u":[770,700,1012],"v":[90,750,1097],"o":[0,1,2]},{"e":47,"k":"k","u":[770,680,923],"v":[90,800,1272],"o":[0,1,2]},{"e":48,"k":"k","u":[770,660,805],"v":[90,750,1397],"o":[0,1,2]},{"e":50,"k":"r","u":[702,690,1029],"v":[55,440,462],"o":[0,1,2]},{"e":51,"k":"r","u":[702,690,1052],"v":[55,500,567],"o":[0,1,2]},{"e":52,"k":"r","u":[702,690,1067],"v":[55,580,675],"o":[0,1,2]},{"e":53,"k":"r","u":[702,690,1070],"v":[55,620,785],"o":[0,1,2]},{"e":54,"k":"r","u":[702,690,1061],"v":[55,680,893],"o":[0,1,2]},{"e":55,"k":"r","u":[702,690,972],"v":[55,800,1190],"o":[0,1,2]},{"e":56,"k":"r","u":[702,690,1042],"v":[55,740,997],"o":[0,1,2]},{"e":60,"k":"l","u":[897,640,487],"v":[200,470,55],"o":[0,1,2]},{"e":61,"k":"l","u":[897,660,560],"v":[200,430,38],"o":[0,1,2]},{"e":62,"k":"l","u":[897,640,418],"v":[200,520,88],"o":[0,1,2]},{"e":63,"k":"l","u":[897,800,1067],"v":[200,640,675],"o":[0,1,2]},{"e":64,"k":"l","u":[897,730,1012],"v":[200,740,1097],"o":[0,1,2]},{"e":65,"k":"l","u":[897,640,128],"v":[200,640,893],"o":[0,1,2]},{"e":66,"k":"l","u":[897,760,949],"v":[200,420,278],"o":[0,1,2]},{"e":67,"k":"l","u":[897,760,993],"v":[200,480,366],"o":[0,1,2]}]},"transform":[{"flatten":["u","v","o"]}],"mark":{"type":"line","interpolate":"basis","strokeWidth":1},"encoding":{"x":{"field":"u","type":"quantitative","axis":null,"scale":{"domain":[0,1568],"range":[760,1520],"zero":false,"nice":false}},"y":{"field":"v","type":"quantitative","axis":null,"scale":{"domain":[0,5808],"range":[0,1936],"zero":false,"nice":false}},"detail":{"field":"e"},"order":{"field":"o"},"color":{"field":"k","type":"nominal","legend":null,"scale":{"domain":["a","d","k","l","r"],"range":["#F8766D","#A3A500","#00BF7D","#00B0F6","#E76BF3"]}}}},
{"data":{"values":[{"g":"LY96","x":487,"y":55,"lx":470,"ly":30},{"g":"","x":560,"y":38,"lx":560,"ly":12},{"g":"CACTIN","x":418,"y":88,"lx":400,"ly":115},{"g":"TMEM119","x":352,"y":138,"lx":335,"ly":165},{"g":"TJP2","x":293,"y":200,"lx":275,"ly":228},{"g":"SLC28A2","x":245,"y":295,"lx":245,"ly":275},{"g":"PTH","x":197,"y":366,"lx":213,"ly":340},{"g":"PRLH","x":162,"y":462,"lx":143,"ly":490},{"g":"PBLD","x":137,"y":567,"lx":155,"ly":541},{"g":"NOS3","x":123,"y":675,"lx":140,"ly":650},{"g":"MAP1A","x":120,"y":785,"lx":137,"ly":813},{"g":"LACRT","x":128,"y":893,"lx":120,"ly":918},{"g":"ITGB6","x":148,"y":997,"lx":130,"ly":1023},{"g":"IAPP","x":178,"y":1097,"lx":160,"ly":1123},{"g":"EXT1","x":218,"y":1190,"lx":176,"ly":1200},{"g":"CUBN","x":266,"y":1272,"lx":248,"ly":1247},{"g":"CNGB1","x":322,"y":1342,"lx":305,"ly":1316},{"g":"CD34","x":385,"y":1398,"lx":367,"ly":1373},{"g":"CACNB2","x":452,"y":1440,"lx":470,"ly":1415},{"g":"ATP2B3","x":523,"y":1463,"lx":503,"ly":1490},{"g":"ANGPT1","x":596,"y":1472,"lx":612,"ly":1498},{"g":"ALDH1A1","x":668,"y":1465,"lx":732,"ly":1466},{"g":"ADGRF5","x":737,"y":1440,"lx":755,"ly":1414},{"g":"NLRP6","x":805,"y":1397,"lx":819,"ly":1367},{"g":"LYZ","x":867,"y":1342,"lx":885,"ly":1316},{"g":"CFHR2","x":923,"y":1272,"lx":941,"ly":1246},{"g":"MPO","x":972,"y":1190,"lx":1010,"ly":1200},{"g":"LTF","x":1012,"y":1097,"lx":995,"ly":1124},{"g":"HTN3","x":1042,"y":997,"lx":1024,"ly":1024},{"g":"FAM3A","x":1061,"y":893,"lx":1069,"ly":870},{"g":"ELANE","x":1070,"y":785,"lx":1052,"ly":760},{"g":"DEFB114","x":1067,"y":675,"lx":1049,"ly":702},{"g":"DEFA4","x":1052,"y":567,"lx":1035,"ly":593},{"g":"DEFA3","x":1029,"y":462,"lx":1011,"ly":490},{"g":"DEFA1","x":993,"y":366,"lx":1010,"ly":340},{"g":"CTSG","x":949,"y":278,"lx":967,"ly":252}]},"layer":[{"mark":{"type":"circle","color":"#b3b3b3","opacity":1,"size":45},"encoding":{"x":{"field":"x","type":"quantitative"},"y":{"field":"y","type":"quantitative"}}},{"mark":{"type":"text","fontSize":12},"encoding":{"x":{"field":"lx","type":"quantitative"},"y":{"field":"ly","type":"quantitative"},"text":{"field":"g"}}}]},
{"data":{"values":[{"t":"defense response to fungus","x":632,"y":40,"lx":614,"ly":14},{"t":"response to fungus","x":702,"y":55,"lx":818,"ly":61},{"t":"killing of cells of other organism","x":770,"y":90,"lx":790,"ly":117},{"t":"anatomical structure homeostasis","x":837,"y":142,"lx":855,"ly":165},{"t":"regulation of lipopolysaccharide−mediated signaling pathway","x":897,"y":200,"lx":660,"ly":228}]},"layer":[{"mark":{"type":"circle","color":"#e5c494","opacity":1,"size":150},"encoding":{"x":{"field":"x","type":"quantitative"},"y":{"field":"y","type":"quantitative"}}},{"mark":{"type":"text","fontSize":12},"encoding":{"x":{"field":"lx","type":"quantitative"},"y":{"field":"ly","type":"quantitative"},"text":{"field":"t"}}}]},
{"data":{"values":[{"n":5,"x":1190,"y":925,"tx":1245},{"n":10,"x":1190,"y":1010,"tx":1245},{"n":15,"x":1190,"y":1100,"tx":1245},{"n":20,"x":1190,"y":1203,"tx":1245}]},"layer":[{"mark":{"type":"circle","color":"black","opacity":1},"encoding":{"x":{"field":"x","type":"quantitative"},"y":{"field":"y","type":"quantitative"},"size":{"field":"n","type":"quantitative","legend":null,"scale":{"domain":[5,20],"range":[254,660]}}}},{"mark":{"type":"text","fontSize":15,"align":"left"},"encoding":{"x":{"field":"tx","type":"quantitative"},"y":{"field":"y","type":"quantitative"},"text":{"field":"n"}}}]},
{"data":{"values":[{"t":"size","x":1154,"y":838},{"t":"category","x":1154,"y":1322},{"t":"anatomical structure homeostasis","x":915,"y":1432},{"t":"defense response to fungus","x":915,"y":1528},{"t":"killing of cells of other organism","x":915,"y":1630},{"t":"regulation of lipopolysaccharide−mediated","x":915,"y":1722},{"t":"signaling pathway","x":915,"y":1792},{"t":"response to fungus","x":915,"y":1878}]},"mark":{"type":"text","fontSize":16,"align":"left"},"encoding":{"x":{"field":"x","type":"quantitative"},"y":{"field":"y","type":"quantitative"},"text":{"field":"t"}}},
{"data":{"values":[{"k":"a","y":1432},{"k":"d","y":1528},{"k":"k","y":1630},{"k":"l","y":1722},{"k":"r","y":1878}]},"mark":{"type":"rule","strokeWidth":1.5},"encoding":{"x":{"datum":838,"type":"quantitative"},"x2":{"datum":878},"y":{"field":"y","type":"quantitative"},"color":{"field":"k","type":"nominal","legend":null}}}
]},

{"data":{"values":[{"x":545,"y":0,"l":0,"p":536,"q":48},{"x":563,"y":1515,"l":0,"p":554,"q":1442},{"x":536,"y":48,"l":2,"p":520,"q":178},{"x":483,"y":95,"l":1,"p":520,"q":178},{"x":520,"y":178,"l":2,"p":525,"q":343},{"x":600,"y":172,"l":1,"p":598,"q":279},{"x":649,"y":215,"l":1,"p":632,"q":315},{"x":725,"y":170,"l":1,"p":700,"q":267},{"x":152,"y":138,"l":1,"p":208,"q":203},{"x":208,"y":203,"l":2,"p":281,"q":288},{"x":281,"y":288,"l":2,"p":408,"q":354},{"x":902,"y":188,"l":1,"p":868,"q":283},{"x":982,"y":229,"l":1,"p":920,"q":307},{"x":868,"y":283,"l":2,"p":830,"q":420},{"x":920,"y":307,"l":2,"p":830,"q":420},{"x":452,"y":269,"l":1,"p":502,"q":368},{"x":513,"y":266,"l":3,"p":525,"q":343},{"x":553,"y":263,"l":2,"p":525,"q":343},{"x":598,"y":279,"l":3,"p":632,"q":315},{"x":700,"y":267,"l":2,"p":722,"q":352},{"x":632,"y":315,"l":2,"p":525,"q":343},{"x":525,"y":343,"l":2,"p":502,"q":368},{"x":502,"y":368,"l":2,"p":420,"q":420},{"x":462,"y":350,"l":1,"p":502,"q":420},{"x":337,"y":307,"l":3,"p":408,"q":354},{"x":408,"y":354,"l":3,"p":502,"q":368},{"x":342,"y":393,"l":5,"p":423,"q":492},{"x":375,"y":398,"l":2,"p":342,"q":393},{"x":416,"y":416,"l":5,"p":423,"q":492},{"x":337,"y":455,"l":5,"p":423,"q":492},{"x":375,"y":447,"l":5,"p":423,"q":492},{"x":423,"y":492,"l":5,"p":400,"q":668},{"x":408,"y":534,"l":5,"p":423,"q":492},{"x":454,"y":478,"l":3,"p":423,"q":492},{"x":473,"y":434,"l":1,"p":501,"q":461},{"x":501,"y":461,"l":2,"p":555,"q":533},{"x":537,"y":415,"l":1,"p":561,"q":456},{"x":561,"y":456,"l":1,"p":555,"q":533},{"x":593,"y":390,"l":2,"p":631,"q":476},{"x":622,"y":418,"l":1,"p":631,"q":476},{"x":648,"y":364,"l":1,"p":673,"q":412},{"x":673,"y":412,"l":2,"p":631,"q":476},{"x":631,"y":476,"l":2,"p":620,"q":700},{"x":722,"y":352,"l":2,"p":745,"q":487},{"x":747,"y":298,"l":1,"p":722,"q":352},{"x":785,"y":316,"l":1,"p":727,"q":412},{"x":727,"y":412,"l":2,"p":727,"q":462},{"x":790,"y":388,"l":3,"p":745,"q":487},{"x":872,"y":335,"l":1,"p":827,"q":422},{"x":953,"y":360,"l":1,"p":907,"q":402},{"x":827,"y":422,"l":3,"p":745,"q":487},{"x":907,"y":402,"l":2,"p":860,"q":465},{"x":776,"y":431,"l":1,"p":745,"q":487},{"x":873,"y":440,"l":2,"p":860,"q":465},{"x":918,"y":444,"l":4,"p":860,"q":465},{"x":955,"y":458,"l":1,"p":907,"q":495},{"x":1004,"y":450,"l":1,"p":907,"q":495},{"x":860,"y":465,"l":4,"p":745,"q":487},{"x":907,"y":494,"l":4,"p":835,"q":523},{"x":1018,"y":505,"l":3,"p":1021,"q":576},{"x":967,"y":508,"l":1,"p":948,"q":550},{"x":1082,"y":525,"l":2,"p":1021,"q":576},{"x":835,"y":523,"l":3,"p":745,"q":487},{"x":898,"y":531,"l":4,"p":820,"q":558},{"x":948,"y":550,"l":2,"p":860,"q":630},{"x":864,"y":544,"l":2,"p":820,"q":558},{"x":820,"y":558,"l":3,"p":710,"q":627},{"x":768,"y":547,"l":1,"p":727,"q":535},{"x":727,"y":535,"l":3,"p":710,"q":627},{"x":745,"y":487,"l":3,"p":656,"q":592},{"x":793,"y":490,"l":3,"p":745,"q":487},{"x":824,"y":492,"l":2,"p":745,"q":487},{"x":727,"y":462,"l":3,"p":700,"q":585},{"x":681,"y":473,"l":3,"p":656,"q":592},{"x":707,"y":505,"l":1,"p":671,"q":507},{"x":671,"y":507,"l":2,"p":656,"q":592},{"x":661,"y":540,"l":2,"p":656,"q":592},{"x":600,"y":494,"l":3,"p":597,"q":557},{"x":528,"y":504,"l":4,"p":555,"q":533},{"x":466,"y":518,"l":3,"p":484,"q":564},{"x":555,"y":533,"l":3,"p":597,"q":557},{"x":617,"y":526,"l":3,"p":597,"q":557},{"x":640,"y":543,"l":3,"p":630,"q":567},{"x":597,"y":557,"l":4,"p":620,"q":700},{"x":630,"y":567,"l":4,"p":620,"q":700},{"x":580,"y":574,"l":3,"p":597,"q":557},{"x":526,"y":548,"l":3,"p":552,"q":612},{"x":484,"y":564,"l":3,"p":515,"q":618},{"x":656,"y":592,"l":4,"p":620,"q":700},{"x":700,"y":585,"l":4,"p":620,"q":700},{"x":725,"y":583,"l":4,"p":710,"q":627},{"x":690,"y":558,"l":1,"p":710,"q":627},{"x":778,"y":588,"l":3,"p":710,"q":627},{"x":602,"y":594,"l":3,"p":620,"q":700},{"x":628,"y":598,"l":2,"p":620,"q":700},{"x":748,"y":580,"l":2,"p":710,"q":627},{"x":871,"y":579,"l":2,"p":784,"q":640},{"x":912,"y":572,"l":3,"p":860,"q":630},{"x":984,"y":573,"l":2,"p":977,"q":625},{"x":1021,"y":576,"l":3,"p":1024,"q":616},{"x":1024,"y":616,"l":4,"p":977,"q":625},{"x":1064,"y":613,"l":2,"p":1024,"q":616},{"x":1174,"y":620,"l":2,"p":1064,"q":613},{"x":1283,"y":554,"l":2,"p":1174,"q":620},{"x":1373,"y":495,"l":2,"p":1283,"q":554},{"x":1449,"y":439,"l":2,"p":1373,"q":495},{"x":1510,"y":384,"l":1,"p":1449,"q":439},{"x":1198,"y":661,"l":1,"p":1174,"q":620},{"x":1163,"y":737,"l":2,"p":1174,"q":620},{"x":1095,"y":663,"l":2,"p":1075,"q":686},{"x":1075,"y":686,"l":2,"p":1003,"q":660},{"x":1003,"y":660,"l":4,"p":960,"q":657},{"x":985,"y":684,"l":3,"p":960,"q":657},{"x":937,"y":624,"l":4,"p":860,"q":630},{"x":977,"y":625,"l":2,"p":960,"q":657},{"x":960,"y":657,"l":2,"p":880,"q":683},{"x":895,"y":633,"l":1,"p":860,"q":630},{"x":842,"y":612,"l":2,"p":784,"q":640},{"x":799,"y":606,"l":2,"p":710,"q":627},{"x":736,"y":606,"l":1,"p":710,"q":627},{"x":784,"y":640,"l":3,"p":710,"q":627},{"x":745,"y":636,"l":3,"p":710,"q":627},{"x":735,"y":660,"l":3,"p":700,"q":700},{"x":710,"y":627,"l":4,"p":620,"q":700},{"x":678,"y":628,"l":2,"p":620,"q":700},{"x":647,"y":628,"l":3,"p":620,"q":700},{"x":610,"y":631,"l":3,"p":620,"q":700},{"x":583,"y":632,"l":3,"p":620,"q":700},{"x":557,"y":644,"l":3,"p":620,"q":700},{"x":552,"y":612,"l":3,"p":620,"q":700},{"x":515,"y":618,"l":3,"p":620,"q":700},{"x":475,"y":616,"l":3,"p":530,"q":657},{"x":530,"y":657,"l":3,"p":620,"q":700},{"x":443,"y":621,"l":3,"p":530,"q":657},{"x":488,"y":650,"l":3,"p":530,"q":657},{"x":694,"y":655,"l":2,"p":620,"q":700},{"x":785,"y":660,"l":2,"p":700,"q":700},{"x":833,"y":652,"l":2,"p":784,"q":640},{"x":726,"y":698,"l":2,"p":620,"q":700},{"x":771,"y":690,"l":1,"p":726,"q":698},{"x":815,"y":677,"l":2,"p":726,"q":698},{"x":880,"y":683,"l":3,"p":784,"q":735},{"x":932,"y":673,"l":2,"p":880,"q":683},{"x":923,"y":698,"l":2,"p":880,"q":683},{"x":955,"y":718,"l":3,"p":887,"q":735},{"x":998,"y":731,"l":3,"p":955,"q":718},{"x":940,"y":740,"l":3,"p":887,"q":735},{"x":887,"y":735,"l":2,"p":812,"q":735},{"x":857,"y":725,"l":2,"p":812,"q":735},{"x":832,"y":721,"l":1,"p":812,"q":735},{"x":812,"y":735,"l":2,"p":726,"q":698},{"x":784,"y":737,"l":2,"p":726,"q":698},{"x":850,"y":757,"l":4,"p":812,"q":735},{"x":817,"y":775,"l":2,"p":784,"q":737},{"x":772,"y":769,"l":4,"p":720,"q":760},{"x":792,"y":793,"l":2,"p":720,"q":760},{"x":858,"y":797,"l":2,"p":817,"q":775},{"x":962,"y":765,"l":3,"p":940,"q":740},{"x":1066,"y":772,"l":3,"p":962,"q":765},{"x":1116,"y":759,"l":3,"p":1163,"q":737},{"x":938,"y":787,"l":3,"p":962,"q":765},{"x":981,"y":787,"l":3,"p":962,"q":765},{"x":1018,"y":803,"l":2,"p":981,"q":787},{"x":969,"y":821,"l":4,"p":962,"q":765},{"x":907,"y":811,"l":1,"p":858,"q":797},{"x":812,"y":817,"l":2,"p":792,"q":793},{"x":1214,"y":787,"l":1,"p":1163,"q":737},{"x":1080,"y":845,"l":4,"p":1116,"q":759},{"x":1041,"y":865,"l":1,"p":1018,"q":803},{"x":927,"y":848,"l":1,"p":862,"q":862},{"x":896,"y":855,"l":2,"p":834,"q":841},{"x":862,"y":862,"l":2,"p":834,"q":841},{"x":834,"y":841,"l":2,"p":792,"q":793},{"x":789,"y":849,"l":3,"p":720,"q":820},{"x":922,"y":885,"l":4,"p":834,"q":841},{"x":962,"y":904,"l":4,"p":922,"q":885},{"x":990,"y":897,"l":4,"p":962,"q":904},{"x":811,"y":883,"l":3,"p":789,"q":849},{"x":787,"y":908,"l":3,"p":789,"q":849},{"x":836,"y":923,"l":5,"p":789,"q":849},{"x":875,"y":920,"l":3,"p":836,"q":923},{"x":919,"y":936,"l":2,"p":875,"q":920},{"x":1027,"y":933,"l":4,"p":962,"q":904},{"x":1074,"y":922,"l":2,"p":1027,"q":933},{"x":1172,"y":939,"l":1,"p":1074,"q":922},{"x":995,"y":934,"l":2,"p":962,"q":904},{"x":970,"y":949,"l":1,"p":995,"q":934},{"x":938,"y":958,"l":3,"p":919,"q":936},{"x":776,"y":949,"l":4,"p":689,"q":873},{"x":816,"y":954,"l":3,"p":776,"q":949},{"x":867,"y":964,"l":4,"p":816,"q":954},{"x":847,"y":995,"l":4,"p":867,"q":964},{"x":884,"y":1000,"l":4,"p":867,"q":964},{"x":925,"y":991,"l":4,"p":867,"q":964},{"x":950,"y":1010,"l":4,"p":925,"q":991},{"x":992,"y":997,"l":2,"p":950,"q":1010},{"x":1069,"y":1000,"l":2,"p":992,"q":997},{"x":1125,"y":988,"l":2,"p":1027,"q":933},{"x":1210,"y":1028,"l":1,"p":1125,"q":988},{"x":1030,"y":1040,"l":2,"p":992,"q":997},{"x":1101,"y":1112,"l":1,"p":1030,"q":1040},{"x":988,"y":1075,"l":3,"p":1030,"q":1040},{"x":843,"y":1041,"l":3,"p":847,"q":995},{"x":796,"y":990,"l":1,"p":816,"q":954},{"x":832,"y":1078,"l":4,"p":843,"q":1041},{"x":908,"y":1068,"l":2,"p":843,"q":1041},{"x":934,"y":1108,"l":1,"p":908,"q":1068},{"x":966,"y":1164,"l":1,"p":908,"q":1068},{"x":879,"y":1145,"l":1,"p":832,"q":1078},{"x":851,"y":1188,"l":1,"p":832,"q":1078},{"x":740,"y":1094,"l":2,"p":832,"q":1078},{"x":757,"y":1197,"l":1,"p":740,"q":1094},{"x":628,"y":1138,"l":2,"p":740,"q":1094},{"x":530,"y":1167,"l":2,"p":628,"q":1138},{"x":585,"y":1133,"l":1,"p":628,"q":1138},{"x":531,"y":1333,"l":2,"p":530,"q":1167},{"x":557,"y":1272,"l":1,"p":530,"q":1167},{"x":499,"y":1415,"l":1,"p":531,"q":1333},{"x":554,"y":1442,"l":2,"p":531,"q":1333},{"x":508,"y":1238,"l":1,"p":530,"q":1167},{"x":502,"y":1166,"l":2,"p":530,"q":1167},{"x":456,"y":1206,"l":1,"p":502,"q":1166},{"x":532,"y":1127,"l":2,"p":552,"q":1000},{"x":455,"y":1145,"l":1,"p":475,"q":1074},{"x":475,"y":1074,"l":2,"p":493,"q":1034},{"x":501,"y":1091,"l":3,"p":493,"q":1034},{"x":546,"y":1079,"l":3,"p":560,"q":1000},{"x":584,"y":1070,"l":2,"p":570,"q":955},{"x":324,"y":1218,"l":1,"p":375,"q":1128},{"x":375,"y":1128,"l":2,"p":425,"q":1082},{"x":414,"y":1132,"l":3,"p":425,"q":1082},{"x":425,"y":1082,"l":2,"p":481,"q":986},{"x":335,"y":1117,"l":4,"p":392,"q":1032},{"x":290,"y":1088,"l":4,"p":338,"q":1028},{"x":326,"y":1071,"l":1,"p":392,"q":1032},{"x":392,"y":1032,"l":4,"p":427,"q":945},{"x":338,"y":1028,"l":4,"p":392,"q":1032},{"x":452,"y":1035,"l":2,"p":481,"q":986},{"x":493,"y":1034,"l":2,"p":481,"q":986},{"x":481,"y":986,"l":3,"p":515,"q":870},{"x":545,"y":1019,"l":2,"p":560,"q":960},{"x":589,"y":996,"l":3,"p":570,"q":955},{"x":632,"y":1029,"l":3,"p":589,"q":996},{"x":704,"y":1056,"l":3,"p":689,"q":873},{"x":773,"y":1050,"l":1,"p":722,"q":930},{"x":722,"y":930,"l":6,"p":620,"q":840},{"x":685,"y":952,"l":5,"p":620,"q":840},{"x":648,"y":959,"l":3,"p":620,"q":840},{"x":616,"y":943,"l":3,"p":620,"q":840},{"x":570,"y":955,"l":4,"p":536,"q":900},{"x":536,"y":900,"l":3,"p":515,"q":870},{"x":564,"y":917,"l":2,"p":536,"q":900},{"x":534,"y":928,"l":2,"p":536,"q":900},{"x":602,"y":907,"l":3,"p":620,"q":840},{"x":689,"y":873,"l":3,"p":620,"q":840},{"x":597,"y":866,"l":6,"p":620,"q":840},{"x":630,"y":860,"l":2,"p":620,"q":840},{"x":561,"y":874,"l":2,"p":520,"q":833},{"x":516,"y":872,"l":4,"p":500,"q":800},{"x":501,"y":897,"l":2,"p":475,"q":930},{"x":475,"y":930,"l":2,"p":434,"q":920},{"x":434,"y":920,"l":2,"p":390,"q":918},{"x":488,"y":964,"l":2,"p":481,"q":986},{"x":427,"y":945,"l":3,"p":392,"q":1032},{"x":377,"y":960,"l":3,"p":392,"q":1032},{"x":345,"y":967,"l":3,"p":392,"q":1032},{"x":393,"y":981,"l":2,"p":427,"q":945},{"x":392,"y":918,"l":1,"p":349,"q":913},{"x":349,"y":913,"l":2,"p":276,"q":936},{"x":276,"y":936,"l":2,"p":233,"q":963},{"x":233,"y":963,"l":2,"p":228,"q":1025},{"x":173,"y":938,"l":2,"p":233,"q":963},{"x":125,"y":981,"l":1,"p":233,"q":963},{"x":139,"y":1023,"l":1,"p":180,"q":1039},{"x":180,"y":1039,"l":2,"p":233,"q":963},{"x":228,"y":1025,"l":2,"p":233,"q":963},{"x":102,"y":1108,"l":1,"p":180,"q":1039},{"x":171,"y":1112,"l":1,"p":228,"q":1025},{"x":305,"y":893,"l":3,"p":350,"q":860},{"x":345,"y":880,"l":1,"p":412,"q":875},{"x":412,"y":875,"l":3,"p":455,"q":884},{"x":455,"y":884,"l":4,"p":480,"q":870},{"x":480,"y":870,"l":3,"p":516,"q":872},{"x":376,"y":864,"l":4,"p":412,"q":875},{"x":230,"y":885,"l":2,"p":238,"q":848},{"x":187,"y":877,"l":3,"p":238,"q":848},{"x":87,"y":904,"l":1,"p":187,"q":877},{"x":238,"y":848,"l":3,"p":328,"q":817},{"x":132,"y":832,"l":2,"p":180,"q":722},{"x":266,"y":815,"l":2,"p":328,"q":817},{"x":328,"y":817,"l":3,"p":375,"q":822},{"x":343,"y":840,"l":3,"p":375,"q":822},{"x":375,"y":822,"l":5,"p":436,"q":770},{"x":434,"y":822,"l":5,"p":436,"q":770},{"x":474,"y":824,"l":3,"p":436,"q":770},{"x":352,"y":793,"l":3,"p":375,"q":822},{"x":402,"y":787,"l":5,"p":436,"q":770},{"x":436,"y":783,"l":6,"p":520,"q":740},{"x":455,"y":758,"l":6,"p":520,"q":740},{"x":373,"y":760,"l":3,"p":402,"q":787},{"x":402,"y":741,"l":3,"p":455,"q":758},{"x":366,"y":725,"l":6,"p":398,"q":670},{"x":335,"y":755,"l":2,"p":373,"q":760},{"x":220,"y":762,"l":1,"p":300,"q":720},{"x":339,"y":721,"l":1,"p":366,"q":725},{"x":290,"y":755,"l":2,"p":335,"q":755},{"x":275,"y":705,"l":1,"p":306,"q":674},{"x":306,"y":674,"l":2,"p":360,"q":657},{"x":360,"y":657,"l":2,"p":403,"q":630},{"x":180,"y":722,"l":2,"p":232,"q":690},{"x":232,"y":690,"l":3,"p":306,"q":674},{"x":127,"y":725,"l":1,"p":180,"q":722},{"x":70,"y":737,"l":1,"p":127,"q":725},{"x":112,"y":682,"l":1,"p":232,"q":690},{"x":138,"y":650,"l":2,"p":232,"q":690},{"x":248,"y":636,"l":2,"p":306,"q":674},{"x":198,"y":620,"l":2,"p":248,"q":636},{"x":84,"y":606,"l":1,"p":198,"q":620},{"x":99,"y":560,"l":1,"p":198,"q":620},{"x":153,"y":582,"l":1,"p":198,"q":620},{"x":133,"y":497,"l":1,"p":221,"q":564},{"x":221,"y":564,"l":2,"p":255,"q":588},{"x":255,"y":588,"l":2,"p":309,"q":602},{"x":203,"y":501,"l":1,"p":288,"q":573},{"x":288,"y":573,"l":3,"p":309,"q":602},{"x":309,"y":602,"l":3,"p":360,"q":657},{"x":259,"y":449,"l":1,"p":331,"q":493},{"x":331,"y":493,"l":1,"p":375,"q":534},{"x":280,"y":527,"l":1,"p":333,"q":539},{"x":333,"y":539,"l":2,"p":403,"q":630},{"x":345,"y":574,"l":3,"p":372,"q":617},{"x":382,"y":564,"l":2,"p":403,"q":630},{"x":413,"y":590,"l":2,"p":403,"q":630},{"x":420,"y":566,"l":2,"p":413,"q":590},{"x":372,"y":617,"l":3,"p":403,"q":630},{"x":345,"y":628,"l":1,"p":360,"q":657},{"x":403,"y":630,"l":3,"p":475,"q":616},{"x":398,"y":670,"l":6,"p":366,"q":725},{"x":445,"y":695,"l":6,"p":398,"q":670},{"x":425,"y":655,"l":1,"p":403,"q":630},{"x":454,"y":668,"l":2,"p":488,"q":650},{"x":490,"y":683,"l":3,"p":530,"q":700},{"x":530,"y":690,"l":3,"p":620,"q":700},{"x":480,"y":723,"l":3,"p":530,"q":700},{"x":423,"y":713,"l":1,"p":445,"q":695},{"x":507,"y":717,"l":5,"p":620,"q":760},{"x":505,"y":745,"l":4,"p":620,"q":760},{"x":533,"y":775,"l":3,"p":620,"q":760},{"x":525,"y":835,"l":3,"p":620,"q":760},{"x":515,"y":800,"l":3,"p":620,"q":760},{"x":615,"y":705,"l":6,"p":620,"q":760},{"x":640,"y":790,"l":6,"p":620,"q":760},{"x":590,"y":815,"l":6,"p":620,"q":760},{"x":548,"y":805,"l":5,"p":620,"q":760},{"x":530,"y":745,"l":5,"p":620,"q":760},{"x":587,"y":688,"l":6,"p":620,"q":760},{"x":668,"y":715,"l":7,"p":620,"q":760},{"x":570,"y":735,"l":7,"p":620,"q":760},{"x":616,"y":747,"l":7,"p":620,"q":760},{"x":573,"y":778,"l":6,"p":620,"q":760},{"x":677,"y":772,"l":6,"p":620,"q":760},{"x":610,"y":817,"l":7,"p":620,"q":760},{"x":655,"y":810,"l":6,"p":620,"q":760},{"x":729,"y":811,"l":6,"p":677,"q":772},{"x":638,"y":680,"l":8,"p":620,"q":760},{"x":660,"y":730,"l":8,"p":620,"q":760}]},"layer":[
{"mark":{"type":"rule","color":"#aaaaaa","strokeWidth":1},"encoding":{"x":{"field":"x","type":"quantitative","axis":null,"scale":{"domain":[0,1568],"range":[780,1500],"zero":false,"nice":false}},"x2":{"field":"p"},"y":{"field":"y","type":"quantitative","axis":null,"scale":{"domain":[0,1568],"range":[600,1300],"zero":false,"nice":false}},"y2":{"field":"q"}}},
{"transform":[{"filter":"datum.l>0"}],"mark":{"type":"circle","opacity":1,"stroke":"#555555","strokeWidth":0.6},"encoding":{"x":{"field":"x","type":"quantitative"},"y":{"field":"y","type":"quantitative"},"order":{"field":"l"},"color":{"field":"l","type":"ordinal","legend":null,"scale":{"type":"ordinal","domain":[1,2,3,4,5,6,7,8],"range":["#99ccff","#a8cccc","#d4c96a","#f5cc20","#ffa500","#ff6a00","#ff0000","#e8d040"]}},"size":{"field":"l","type":"ordinal","legend":null,"scale":{"type":"ordinal","domain":[1,2,3,4,5,6,7,8],"range":[133,154,201,254,314,380,531,254]}}}},
{"data":{"values":[{"e":"a","o":0,"x":400,"y":607},{"e":"a","o":1,"x":480,"y":640},{"e":"a","o":2,"x":520,"y":720},{"e":"a","o":3,"x":520,"y":780},{"e":"a","o":4,"x":480,"y":830},{"e":"a","o":5,"x":420,"y":865},{"e":"a","o":6,"x":340,"y":845},{"e":"a","o":7,"x":290,"y":780},{"e":"a","o":8,"x":275,"y":720},{"e":"a","o":9,"x":295,"y":660},{"e":"a","o":10,"x":340,"y":620},{"e":"b","o":0,"x":630,"y":655},{"e":"b","o":1,"x":690,"y":680},{"e":"b","o":2,"x":720,"y":740},{"e":"b","o":3,"x":705,"y":810},{"e":"b","o":4,"x":650,"y":855},{"e":"b","o":5,"x":590,"y":855},{"e":"b","o":6,"x":535,"y":810},{"e":"b","o":7,"x":510,"y":750},{"e":"b","o":8,"x":535,"y":690},{"e":"b","o":9,"x":580,"y":665}]},"mark":{"type":"line","interpolate":"cardinal-closed","color":"#222","strokeDash":[5,4],"strokeWidth":2.5},"encoding":{"x":{"field":"x","type":"quantitative"},"y":{"field":"y","type":"quantitative"},"detail":{"field":"e"},"order":{"field":"o"}}}
]},

{"layer":[
{"data":{"values":[{"a":"PGF","b":"ANGPT1"},{"a":"PGF","b":"VEGFC"},{"a":"PGF","b":"CD34"},{"a":"PGF","b":"TEK"},{"a":"PGF","b":"NOS3"},{"a":"ANGPT1","b":"VEGFC"},{"a":"ANGPT1","b":"CD34"},{"a":"ANGPT1","b":"TEK"},{"a":"ANGPT1","b":"NOS3"},{"a":"VEGFC","b":"CD34"},{"a":"VEGFC","b":"TEK"},{"a":"VEGFC","b":"NOS3"},{"a":"CD34","b":"TEK"},{"a":"CD34","b":"NOS3"},{"a":"CD34","b":"TP53"},{"a":"TEK","b":"NOS3"},{"a":"TEK","b":"TP53"},{"a":"NOS3","b":"TP53"},{"a":"TP53","b":"CHD7"},{"a":"TP53","b":"HIST1H4B"},{"a":"TP53","b":"HIST1H4D"},{"a":"TP53","b":"HDAC6"},{"a":"TP53","b":"BRD4"},{"a":"TP53","b":"HDAC9"},{"a":"TP53","b":"TOP3A"},{"a":"TP53","b":"RAD50"},{"a":"TP53","b":"RMI2"},{"a":"CHD7","b":"HIST1H4B"},{"a":"CHD7","b":"HIST1H4D"},{"a":"HIST1H4B","b":"HIST1H4D"},{"a":"HIST1H4B","b":"BRD4"},{"a":"HIST1H4B","b":"HDAC6"},{"a":"HIST1H4B","b":"HDAC9"},{"a":"HIST1H4D","b":"BRD4"},{"a":"HIST1H4D","b":"HDAC6"},{"a":"HIST1H4D","b":"HDAC9"},{"a":"BRD4","b":"HDAC6"},{"a":"BRD4","b":"HDAC9"},{"a":"HDAC6","b":"HDAC9"},{"a":"TOP3A","b":"RAD50"},{"a":"TOP3A","b":"RMI2"},{"a":"RAD50","b":"RMI2"},{"a":"MMP8","b":"DEFA3"},{"a":"MMP8","b":"DEFA1"},{"a":"MMP8","b":"LTF"},{"a":"MMP8","b":"CTSG"},{"a":"MMP8","b":"MPO"},{"a":"MMP8","b":"ELANE"},{"a":"DEFA3","b":"DEFA1"},{"a":"DEFA3","b":"LTF"},{"a":"DEFA3","b":"CTSG"},{"a":"DEFA3","b":"MPO"},{"a":"DEFA3","b":"DEFA4"},{"a":"DEFA3","b":"ELANE"},{"a":"DEFA3","b":"MS4A3"},{"a":"DEFA3","b":"RNASE3"},{"a":"DEFA1","b":"LTF"},{"a":"DEFA1","b":"CTSG"},{"a":"DEFA1","b":"MPO"},{"a":"DEFA1","b":"DEFA4"},{"a":"DEFA1","b":"ELANE"},{"a":"DEFA1","b":"RNASE2"},{"a":"LTF","b":"CTSG"},{"a":"LTF","b":"MPO"},{"a":"LTF","b":"DEFA4"},{"a":"LTF","b":"ELANE"},{"a":"LTF","b":"CEACAM8"},{"a":"CTSG","b":"MPO"},{"a":"CTSG","b":"DEFA4"},{"a":"CTSG","b":"ELANE"},{"a":"CTSG","b":"MS4A3"},{"a":"CTSG","b":"RNASE2"},{"a":"CTSG","b":"CEACAM8"},{"a":"MPO","b":"DEFA4"},{"a":"MPO","b":"ELANE"},{"a":"MPO","b":"CEACAM8"},{"a":"MPO","b":"RNASE2"},{"a":"MPO","b":"RNASE3"},{"a":"MS4A3","b":"DEFA4"},{"a":"MS4A3","b":"RNASE2"},{"a":"MS4A3","b":"RNASE3"},{"a":"MS4A3","b":"ELANE"},{"a":"DEFA4","b":"ELANE"},{"a":"DEFA4","b":"CEACAM8"},{"a":"DEFA4","b":"RNASE2"},{"a":"DEFA4","b":"RNASE3"},{"a":"ELANE","b":"CEACAM8"},{"a":"ELANE","b":"RNASE2"},{"a":"ELANE","b":"RNASE3"},{"a":"RNASE2","b":"RNASE3"},{"a":"CEACAM8","b":"RNASE3"}]},"transform":[{"lookup":"a","from":{"data":{"name":"zn"},"key":"g","fields":["x","y"]},"as":["x","y"]},{"lookup":"b","from":{"data":{"name":"zn"},"key":"g","fields":["x","y"]},"as":["x2","y2"]}],"mark":{"type":"rule","color":"#999999","strokeWidth":1.5},"encoding":{"x":{"field":"x","type":"quantitative","axis":null,"scale":{"domain":[0,1568],"range":[620,1520],"zero":false,"nice":false}},"x2":{"field":"x2"},"y":{"field":"y","type":"quantitative","axis":null,"scale":{"domain":[-1518,1568],"range":[600,1819.8],"zero":false,"nice":false}},"y2":{"field":"y2"}}},
{"data":{"values":[{"e":"l","o":0,"x":300,"y":38},{"e":"l","o":1,"x":400,"y":60},{"e":"l","o":2,"x":500,"y":110},{"e":"l","o":3,"x":600,"y":200},{"e":"l","o":4,"x":680,"y":330},{"e":"l","o":5,"x":750,"y":480},{"e":"l","o":6,"x":800,"y":680},{"e":"l","o":7,"x":820,"y":900},{"e":"l","o":8,"x":800,"y":1130},{"e":"l","o":9,"x":740,"y":1290},{"e":"l","o":10,"x":640,"y":1430},{"e":"l","o":11,"x":480,"y":1515},{"e":"l","o":12,"x":340,"y":1480},{"e":"l","o":13,"x":200,"y":1380},{"e":"l","o":14,"x":90,"y":1200},{"e":"l","o":15,"x":10,"y":1000},{"e":"l","o":16,"x":-15,"y":650},{"e":"l","o":17,"x":20,"y":340},{"e":"l","o":18,"x":110,"y":170},{"e":"l","o":19,"x":200,"y":70},{"e":"r","o":0,"x":1210,"y":188},{"e":"r","o":1,"x":1400,"y":230},{"e":"r","o":2,"x":1500,"y":400},{"e":"r","o":3,"x":1555,"y":640},{"e":"r","o":4,"x":1545,"y":870},{"e":"r","o":5,"x":1440,"y":1100},{"e":"r","o":6,"x":1210,"y":1212},{"e":"r","o":7,"x":1050,"y":1170},{"e":"r","o":8,"x":920,"y":1020},{"e":"r","o":9,"x":860,"y":760},{"e":"r","o":10,"x":860,"y":620},{"e":"r","o":11,"x":900,"y":440},{"e":"r","o":12,"x":1000,"y":290},{"e":"r","o":13,"x":1100,"y":215}]},"mark":{"type":"line","interpolate":"cardinal-closed","color":"#222","strokeDash":[5,4],"strokeWidth":2.2},"encoding":{"x":{"field":"x","type":"quantitative"},"y":{"field":"y","type":"quantitative"},"detail":{"field":"e"},"order":{"field":"o"}}},
{"data":{"values":[{"e":"1","o":0,"x":498,"y":-721},{"e":"1","o":1,"x":64,"y":190},{"e":"2","o":0,"x":702,"y":-524},{"e":"2","o":1,"x":794,"y":680},{"e":"3","o":0,"x":726,"y":-433},{"e":"3","o":1,"x":857,"y":680},{"e":"4","o":0,"x":871,"y":-678},{"e":"4","o":1,"x":1481,"y":369}]},"mark":{"type":"line","color":"#222","strokeDash":[5,4],"strokeWidth":2.2},"encoding":{"x":{"field":"x","type":"quantitative"},"y":{"field":"y","type":"quantitative"},"detail":{"field":"e"},"order":{"field":"o"}}},
{"data":{"name":"zn"},"layer":[{"mark":{"type":"circle","opacity":1,"stroke":"#111","strokeWidth":1},"encoding":{"x":{"field":"x","type":"quantitative"},"y":{"field":"y","type":"quantitative"},"color":{"field":"l","type":"nominal","legend":null,"scale":{"type":"ordinal","domain":["y","o","s","t","r"],"range":["#ffae00","#ff7300","#ff5500","#ff4400","#ff0000"]}},"size":{"field":"l","type":"nominal","legend":null,"scale":{"type":"ordinal","domain":["y","o","s","t","r"],"range":[1960,2375,3120,3320,3850]}}}},{"mark":{"type":"text","fontSize":8.5,"color":"#331100"},"encoding":{"x":{"field":"x","type":"quantitative"},"y":{"field":"y","type":"quantitative"},"text":{"field":"g"}}}]}
]}
]}
